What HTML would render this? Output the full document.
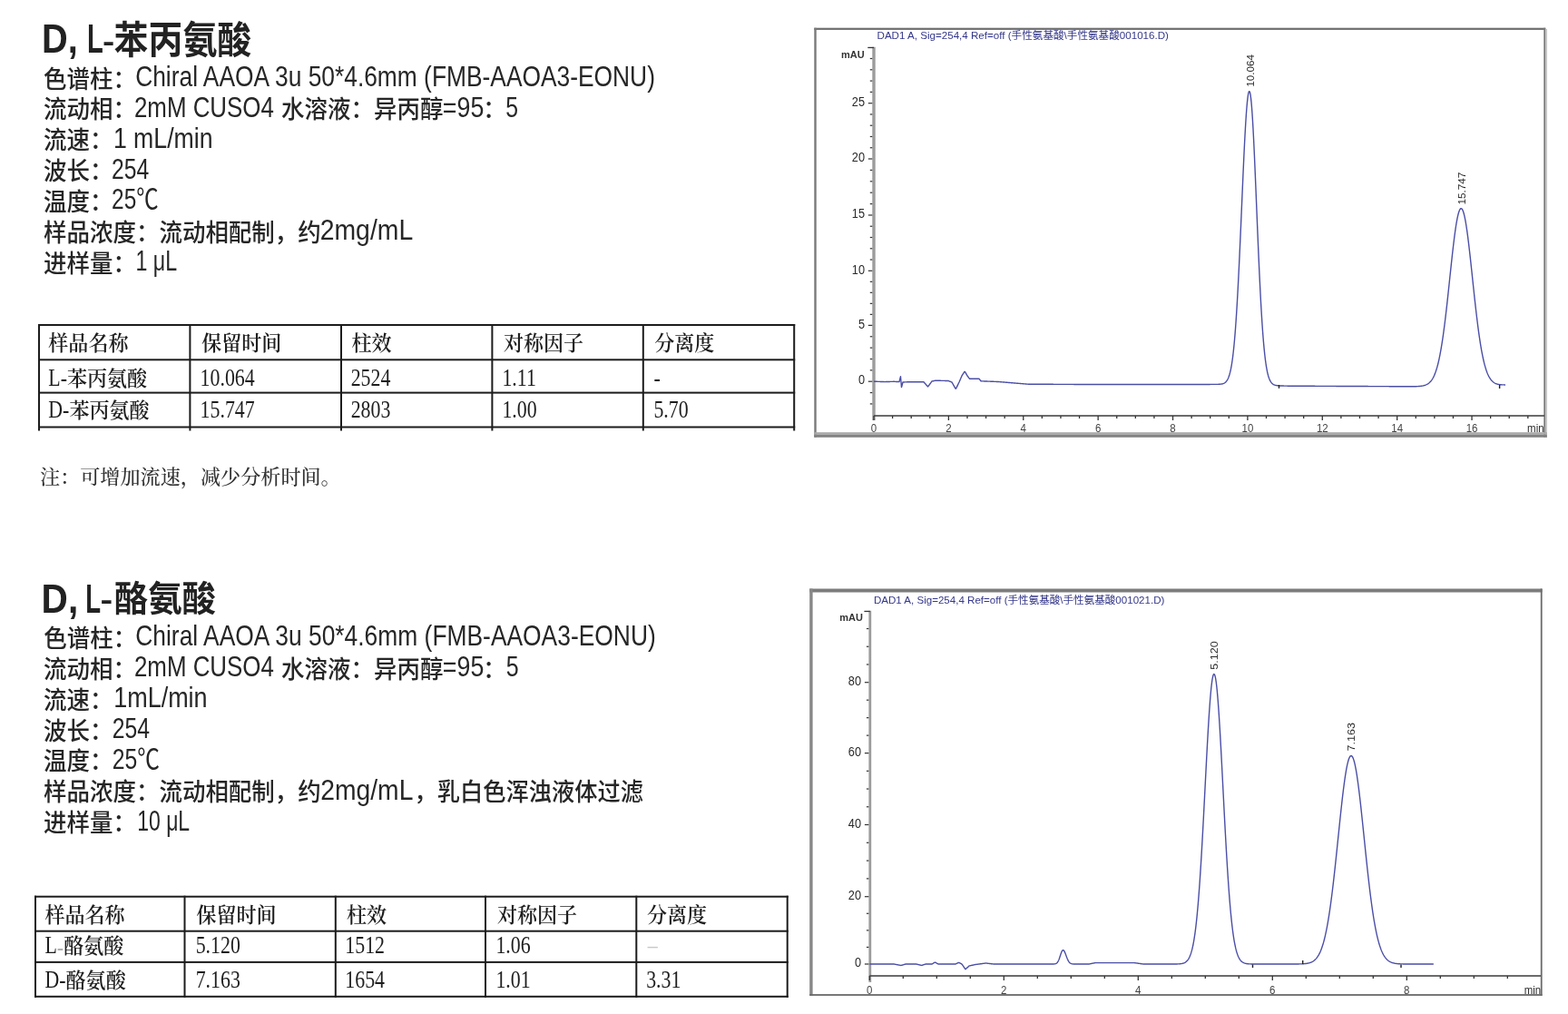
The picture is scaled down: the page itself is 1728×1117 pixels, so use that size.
<!DOCTYPE html>
<html lang="zh"><head><meta charset="utf-8"><title>D,L-苯丙氨酸 / D,L-酪氨酸 手性分离</title>
<style>
*{margin:0;padding:0}
html,body{width:1728px;height:1117px;background:#fff;overflow:hidden}
svg{position:absolute;left:0;top:0;display:block}
text{white-space:pre}
</style></head><body>
<svg width="1728" height="1117" viewBox="0 0 1728 1117">
<rect x="42.00" y="357.00" width="2.00" height="117.50" fill="#1c1c1c"/>
<rect x="208.40" y="357.00" width="2.00" height="117.50" fill="#1c1c1c"/>
<rect x="375.00" y="357.00" width="2.00" height="117.50" fill="#1c1c1c"/>
<rect x="541.40" y="357.00" width="2.00" height="117.50" fill="#1c1c1c"/>
<rect x="707.80" y="357.00" width="2.00" height="117.50" fill="#1c1c1c"/>
<rect x="874.20" y="357.00" width="2.00" height="117.50" fill="#1c1c1c"/>
<rect x="42.00" y="357.00" width="834.20" height="2.00" fill="#1c1c1c"/>
<rect x="42.00" y="395.30" width="834.20" height="2.00" fill="#1c1c1c"/>
<rect x="42.00" y="431.60" width="834.20" height="2.00" fill="#1c1c1c"/>
<rect x="42.00" y="469.50" width="834.20" height="2.00" fill="#1c1c1c"/>
<rect x="38.00" y="986.70" width="2.00" height="112.10" fill="#1c1c1c"/>
<rect x="202.50" y="986.70" width="2.00" height="112.10" fill="#1c1c1c"/>
<rect x="368.80" y="986.70" width="2.00" height="112.10" fill="#1c1c1c"/>
<rect x="534.00" y="986.70" width="2.00" height="112.10" fill="#1c1c1c"/>
<rect x="700.30" y="986.70" width="2.00" height="112.10" fill="#1c1c1c"/>
<rect x="866.70" y="986.70" width="2.00" height="112.10" fill="#1c1c1c"/>
<rect x="38.00" y="986.70" width="830.70" height="2.00" fill="#1c1c1c"/>
<rect x="38.00" y="1024.70" width="830.70" height="2.00" fill="#1c1c1c"/>
<rect x="38.00" y="1058.90" width="830.70" height="2.00" fill="#1c1c1c"/>
<rect x="38.00" y="1096.80" width="830.70" height="2.00" fill="#1c1c1c"/>
<text transform="translate(46.05 57.90) scale(0.8836 1.0000)" style="font:bold 45px 'Liberation Sans', 'Noto Sans CJK SC', sans-serif" fill="#222222">D,</text>
<text transform="translate(95.96 57.90) scale(0.6458 1.0000)" style="font:bold 45px 'Liberation Sans', 'Noto Sans CJK SC', sans-serif" fill="#222222">L</text>
<text transform="translate(113.02 55.85) scale(0.8846 0.7167)" style="font:bold 45px 'Liberation Sans', 'Noto Sans CJK SC', sans-serif" fill="#222222">-</text>
<text transform="translate(125.60 58.92) scale(0.9030 0.9952)" style="font:700 42px 'Noto Sans CJK SC', sans-serif" fill="#222222">苯丙氨酸</text>
<text transform="translate(48.00 96.50) scale(0.9440 1.0000)" style="font:500 27px 'Noto Sans CJK SC', sans-serif" fill="#262626">色谱柱：</text>
<text transform="translate(149.15 95.00) scale(0.8508 1.0000)" style="font:normal 31px 'Liberation Sans', 'Noto Sans CJK SC', sans-serif" fill="#262626">Chiral AAOA 3u 50*4.6mm (FMB-AAOA3-EONU)</text>
<text transform="translate(48.00 130.35) scale(0.9440 1.0000)" style="font:500 27px 'Noto Sans CJK SC', sans-serif" fill="#262626">流动相：</text>
<text transform="translate(147.96 128.85) scale(0.8352 1.0000)" style="font:normal 31px 'Liberation Sans', 'Noto Sans CJK SC', sans-serif" fill="#262626">2mM CUSO4</text>
<text transform="translate(310.00 130.35) scale(0.9440 1.0000)" style="font:500 27px 'Noto Sans CJK SC', sans-serif" fill="#262626">水溶液：异丙醇</text>
<text transform="translate(487.84 128.85) scale(0.8641 1.0000)" style="font:normal 31px 'Liberation Sans', 'Noto Sans CJK SC', sans-serif" fill="#262626">=95</text>
<text transform="translate(532.22 130.35) scale(0.9440 1.0000)" style="font:500 27px 'Noto Sans CJK SC', sans-serif" fill="#262626">：</text>
<text transform="translate(557.20 128.85) scale(0.8000 1.0000)" style="font:normal 31px 'Liberation Sans', 'Noto Sans CJK SC', sans-serif" fill="#262626">5</text>
<text transform="translate(48.00 164.20) scale(0.9440 1.0000)" style="font:500 27px 'Noto Sans CJK SC', sans-serif" fill="#262626">流速：</text>
<text transform="translate(124.88 162.70) scale(0.8604 1.0000)" style="font:normal 31px 'Liberation Sans', 'Noto Sans CJK SC', sans-serif" fill="#262626">1 mL/min</text>
<text transform="translate(48.00 198.05) scale(0.9440 1.0000)" style="font:500 27px 'Noto Sans CJK SC', sans-serif" fill="#262626">波长：</text>
<text transform="translate(123.10 196.55) scale(0.7983 1.0000)" style="font:normal 31px 'Liberation Sans', 'Noto Sans CJK SC', sans-serif" fill="#262626">254</text>
<text transform="translate(48.00 231.90) scale(0.9440 1.0000)" style="font:500 27px 'Noto Sans CJK SC', sans-serif" fill="#262626">温度：</text>
<text transform="translate(123.11 230.40) scale(0.7892 1.0000)" style="font:normal 31px 'Liberation Sans', 'Noto Sans CJK SC', sans-serif" fill="#262626">25℃</text>
<text transform="translate(48.00 265.75) scale(0.9440 1.0000)" style="font:500 27px 'Noto Sans CJK SC', sans-serif" fill="#262626">样品浓度：流动相配制，约</text>
<text transform="translate(352.68 264.25) scale(0.9157 1.0000)" style="font:normal 31px 'Liberation Sans', 'Noto Sans CJK SC', sans-serif" fill="#262626">2mg/mL</text>
<text transform="translate(48.00 299.60) scale(0.9440 1.0000)" style="font:500 27px 'Noto Sans CJK SC', sans-serif" fill="#262626">进样量：</text>
<text transform="translate(149.50 298.10) scale(0.7494 1.0000)" style="font:normal 31px 'Liberation Sans', 'Noto Sans CJK SC', sans-serif" fill="#262626">1 μL</text>
<text transform="translate(45.60 674.60) scale(0.9013 1.0000)" style="font:bold 45px 'Liberation Sans', 'Noto Sans CJK SC', sans-serif" fill="#222222">D,</text>
<text transform="translate(94.16 674.60) scale(0.6125 1.0000)" style="font:bold 45px 'Liberation Sans', 'Noto Sans CJK SC', sans-serif" fill="#222222">L</text>
<text transform="translate(110.58 671.25) scale(0.9154 0.7167)" style="font:bold 45px 'Liberation Sans', 'Noto Sans CJK SC', sans-serif" fill="#222222">-</text>
<text transform="translate(125.71 673.08) scale(0.8912 0.9238)" style="font:700 42px 'Noto Sans CJK SC', sans-serif" fill="#222222">酪氨酸</text>
<text transform="translate(48.30 712.60) scale(0.9440 1.0000)" style="font:500 27px 'Noto Sans CJK SC', sans-serif" fill="#262626">色谱柱：</text>
<text transform="translate(149.25 711.10) scale(0.8518 1.0000)" style="font:normal 31px 'Liberation Sans', 'Noto Sans CJK SC', sans-serif" fill="#262626">Chiral AAOA 3u 50*4.6mm (FMB-AAOA3-EONU)</text>
<text transform="translate(48.00 746.57) scale(0.9440 1.0000)" style="font:500 27px 'Noto Sans CJK SC', sans-serif" fill="#262626">流动相：</text>
<text transform="translate(147.96 745.07) scale(0.8352 1.0000)" style="font:normal 31px 'Liberation Sans', 'Noto Sans CJK SC', sans-serif" fill="#262626">2mM CUSO4</text>
<text transform="translate(310.00 746.57) scale(0.9440 1.0000)" style="font:500 27px 'Noto Sans CJK SC', sans-serif" fill="#262626">水溶液：异丙醇</text>
<text transform="translate(487.84 745.07) scale(0.8641 1.0000)" style="font:normal 31px 'Liberation Sans', 'Noto Sans CJK SC', sans-serif" fill="#262626">=95</text>
<text transform="translate(532.22 746.57) scale(0.9440 1.0000)" style="font:500 27px 'Noto Sans CJK SC', sans-serif" fill="#262626">：</text>
<text transform="translate(557.69 745.07) scale(0.8067 1.0000)" style="font:normal 31px 'Liberation Sans', 'Noto Sans CJK SC', sans-serif" fill="#262626">5</text>
<text transform="translate(48.00 780.54) scale(0.9440 1.0000)" style="font:500 27px 'Noto Sans CJK SC', sans-serif" fill="#262626">流速：</text>
<text transform="translate(125.16 779.04) scale(0.8709 1.0000)" style="font:normal 31px 'Liberation Sans', 'Noto Sans CJK SC', sans-serif" fill="#262626">1mL/min</text>
<text transform="translate(48.00 814.51) scale(0.9440 1.0000)" style="font:500 27px 'Noto Sans CJK SC', sans-serif" fill="#262626">波长：</text>
<text transform="translate(123.70 813.01) scale(0.7983 1.0000)" style="font:normal 31px 'Liberation Sans', 'Noto Sans CJK SC', sans-serif" fill="#262626">254</text>
<text transform="translate(48.00 848.48) scale(0.9440 1.0000)" style="font:500 27px 'Noto Sans CJK SC', sans-serif" fill="#262626">温度：</text>
<text transform="translate(123.70 846.98) scale(0.7987 1.0000)" style="font:normal 31px 'Liberation Sans', 'Noto Sans CJK SC', sans-serif" fill="#262626">25℃</text>
<text transform="translate(48.00 882.45) scale(0.9440 1.0000)" style="font:500 27px 'Noto Sans CJK SC', sans-serif" fill="#262626">样品浓度：流动相配制，约</text>
<text transform="translate(353.29 880.95) scale(0.9120 1.0000)" style="font:normal 31px 'Liberation Sans', 'Noto Sans CJK SC', sans-serif" fill="#262626">2mg/mL</text>
<text transform="translate(456.60 882.45) scale(0.9348 1.0000)" style="font:500 27px 'Noto Sans CJK SC', sans-serif" fill="#262626">，乳白色浑浊液体过滤</text>
<text transform="translate(48.00 916.42) scale(0.9440 1.0000)" style="font:500 27px 'Noto Sans CJK SC', sans-serif" fill="#262626">进样量：</text>
<text transform="translate(151.22 914.92) scale(0.7412 1.0000)" style="font:normal 31px 'Liberation Sans', 'Noto Sans CJK SC', sans-serif" fill="#262626">10 μL</text>
<text transform="translate(53.30 386.00) scale(0.9800 1.0000)" style="font:600 22.5px 'Noto Serif CJK SC', serif" fill="#1e1e1e">样品名称</text>
<text transform="translate(222.20 386.00) scale(0.9800 1.0000)" style="font:600 22.5px 'Noto Serif CJK SC', serif" fill="#1e1e1e">保留时间</text>
<text transform="translate(387.50 386.00) scale(0.9800 1.0000)" style="font:600 22.5px 'Noto Serif CJK SC', serif" fill="#1e1e1e">柱效</text>
<text transform="translate(555.00 386.00) scale(0.9800 1.0000)" style="font:600 22.5px 'Noto Serif CJK SC', serif" fill="#1e1e1e">对称因子</text>
<text transform="translate(721.20 386.00) scale(0.9800 1.0000)" style="font:600 22.5px 'Noto Serif CJK SC', serif" fill="#1e1e1e">分离度</text>
<text transform="translate(53.30 424.60) scale(0.8100 1.0000)" style="font:normal 27px 'Liberation Serif', 'Noto Serif CJK SC', serif" fill="#1e1e1e">L-</text>
<text transform="translate(73.94 424.60) scale(0.9800 1.0000)" style="font:600 22.5px 'Noto Serif CJK SC', serif" fill="#1e1e1e">苯丙氨酸</text>
<text transform="translate(220.58 424.60) scale(0.8100 1.0000)" style="font:normal 27px 'Liberation Serif', 'Noto Serif CJK SC', serif" fill="#1e1e1e">10.064</text>
<text transform="translate(386.69 424.60) scale(0.8100 1.0000)" style="font:normal 27px 'Liberation Serif', 'Noto Serif CJK SC', serif" fill="#1e1e1e">2524</text>
<text transform="translate(553.38 424.60) scale(0.8100 1.0000)" style="font:normal 27px 'Liberation Serif', 'Noto Serif CJK SC', serif" fill="#1e1e1e">1.11</text>
<text transform="translate(720.39 424.60) scale(0.8100 1.0000)" style="font:normal 27px 'Liberation Serif', 'Noto Serif CJK SC', serif" fill="#1e1e1e">-</text>
<text transform="translate(53.30 460.40) scale(0.8100 1.0000)" style="font:normal 27px 'Liberation Serif', 'Noto Serif CJK SC', serif" fill="#1e1e1e">D-</text>
<text transform="translate(76.38 460.40) scale(0.9800 1.0000)" style="font:600 22.5px 'Noto Serif CJK SC', serif" fill="#1e1e1e">苯丙氨酸</text>
<text transform="translate(220.58 460.40) scale(0.8100 1.0000)" style="font:normal 27px 'Liberation Serif', 'Noto Serif CJK SC', serif" fill="#1e1e1e">15.747</text>
<text transform="translate(386.69 460.40) scale(0.8100 1.0000)" style="font:normal 27px 'Liberation Serif', 'Noto Serif CJK SC', serif" fill="#1e1e1e">2803</text>
<text transform="translate(553.38 460.40) scale(0.8100 1.0000)" style="font:normal 27px 'Liberation Serif', 'Noto Serif CJK SC', serif" fill="#1e1e1e">1.00</text>
<text transform="translate(720.39 460.40) scale(0.8100 1.0000)" style="font:normal 27px 'Liberation Serif', 'Noto Serif CJK SC', serif" fill="#1e1e1e">5.70</text>
<text transform="translate(49.50 1015.50) scale(0.9800 1.0000)" style="font:600 22.5px 'Noto Serif CJK SC', serif" fill="#1e1e1e">样品名称</text>
<text transform="translate(216.50 1015.50) scale(0.9800 1.0000)" style="font:600 22.5px 'Noto Serif CJK SC', serif" fill="#1e1e1e">保留时间</text>
<text transform="translate(381.90 1015.50) scale(0.9800 1.0000)" style="font:600 22.5px 'Noto Serif CJK SC', serif" fill="#1e1e1e">柱效</text>
<text transform="translate(548.00 1015.50) scale(0.9800 1.0000)" style="font:600 22.5px 'Noto Serif CJK SC', serif" fill="#1e1e1e">对称因子</text>
<text transform="translate(713.00 1015.50) scale(0.9800 1.0000)" style="font:600 22.5px 'Noto Serif CJK SC', serif" fill="#1e1e1e">分离度</text>
<text transform="translate(49.50 1049.80) scale(0.8100 1.0000)" style="font:normal 27px 'Liberation Serif', 'Noto Serif CJK SC', serif" fill="#1e1e1e">L</text>
<text transform="translate(62.86 1052.30) scale(0.8100 1.0000)" style="font:normal 27px 'Liberation Serif', 'Noto Serif CJK SC', serif" fill="#b0b0b0">-</text>
<text transform="translate(70.14 1049.80) scale(0.9800 1.0000)" style="font:600 22.5px 'Noto Serif CJK SC', serif" fill="#1e1e1e">酪氨酸</text>
<text transform="translate(215.69 1049.80) scale(0.8100 1.0000)" style="font:normal 27px 'Liberation Serif', 'Noto Serif CJK SC', serif" fill="#1e1e1e">5.120</text>
<text transform="translate(380.28 1049.80) scale(0.8100 1.0000)" style="font:normal 27px 'Liberation Serif', 'Noto Serif CJK SC', serif" fill="#1e1e1e">1512</text>
<text transform="translate(546.38 1049.80) scale(0.8100 1.0000)" style="font:normal 27px 'Liberation Serif', 'Noto Serif CJK SC', serif" fill="#1e1e1e">1.06</text>
<text transform="translate(713.81 1049.80) scale(0.8100 1.0000)" style="font:normal 27px 'Liberation Serif', 'Noto Serif CJK SC', serif" fill="#c8c8c8">–</text>
<text transform="translate(49.50 1088.30) scale(0.8100 1.0000)" style="font:normal 27px 'Liberation Serif', 'Noto Serif CJK SC', serif" fill="#1e1e1e">D-</text>
<text transform="translate(72.58 1088.30) scale(0.9800 1.0000)" style="font:600 22.5px 'Noto Serif CJK SC', serif" fill="#1e1e1e">酪氨酸</text>
<text transform="translate(215.69 1088.30) scale(0.8100 1.0000)" style="font:normal 27px 'Liberation Serif', 'Noto Serif CJK SC', serif" fill="#1e1e1e">7.163</text>
<text transform="translate(380.28 1088.30) scale(0.8100 1.0000)" style="font:normal 27px 'Liberation Serif', 'Noto Serif CJK SC', serif" fill="#1e1e1e">1654</text>
<text transform="translate(546.38 1088.30) scale(0.8100 1.0000)" style="font:normal 27px 'Liberation Serif', 'Noto Serif CJK SC', serif" fill="#1e1e1e">1.01</text>
<text transform="translate(712.19 1088.30) scale(0.8100 1.0000)" style="font:normal 27px 'Liberation Serif', 'Noto Serif CJK SC', serif" fill="#1e1e1e">3.31</text>
<text transform="translate(44.00 532.50) scale(1.0063 1.0000)" style="font:500 22px 'Noto Serif CJK SC', serif" fill="#333333">注：可增加流速，减少分析时间。</text>
</svg>
<svg width="1728" height="1117" viewBox="0 0 1728 1117" style="position:absolute;left:0;top:0">
<rect x="897.3" y="30.7" width="806.0" height="2.2" fill="#6e6e6e"/>
<rect x="897.3" y="30.7" width="2.4" height="451.0" fill="#7a7a7a"/>
<rect x="1701.3" y="30.7" width="1.9" height="451.0" fill="#7a7a7a"/>
<rect x="1703.2" y="32.0" width="1.8" height="450.0" fill="#c4c4c4"/>
<rect x="897.3" y="476.2" width="807.5" height="2.6" fill="#a8a8a8"/>
<rect x="897.3" y="478.8" width="807.5" height="3.0" fill="#828282"/>
<text x="966.5" y="42.8" font-family="Liberation Sans, Noto Sans CJK SC, sans-serif" font-weight="normal" font-size="11.5" fill="#34378a" textLength="321.5" lengthAdjust="spacingAndGlyphs">DAD1 A, Sig=254,4 Ref=off (手性氨基酸\手性氨基酸001016.D)</text>
<rect x="961.3" y="51.8" width="3.4" height="411.2" fill="#9c9c9c"/>
<rect x="956.3" y="51.8" width="6.7" height="1.3" fill="#333"/>
<rect x="958.8" y="444.32" width="2.5" height="1.2" fill="#333"/>
<rect x="958.8" y="431.96" width="2.5" height="1.2" fill="#333"/>
<rect x="956.8" y="419.60" width="4.5" height="1.2" fill="#333"/>
<text x="0.0" y="423.50" font-family="Liberation Sans, sans-serif" font-weight="normal" font-size="14.5" fill="#2a2a2a" text-anchor="end" transform="translate(953.0,0) scale(0.880,1)">0</text>
<rect x="958.8" y="407.24" width="2.5" height="1.2" fill="#333"/>
<rect x="958.8" y="394.88" width="2.5" height="1.2" fill="#333"/>
<rect x="958.8" y="382.52" width="2.5" height="1.2" fill="#333"/>
<rect x="958.8" y="370.16" width="2.5" height="1.2" fill="#333"/>
<rect x="956.8" y="357.80" width="4.5" height="1.2" fill="#333"/>
<text x="0.0" y="361.70" font-family="Liberation Sans, sans-serif" font-weight="normal" font-size="14.5" fill="#2a2a2a" text-anchor="end" transform="translate(953.0,0) scale(0.880,1)">5</text>
<rect x="958.8" y="345.78" width="2.5" height="1.2" fill="#333"/>
<rect x="958.8" y="333.76" width="2.5" height="1.2" fill="#333"/>
<rect x="958.8" y="321.74" width="2.5" height="1.2" fill="#333"/>
<rect x="958.8" y="309.72" width="2.5" height="1.2" fill="#333"/>
<rect x="956.8" y="297.70" width="4.5" height="1.2" fill="#333"/>
<text x="0.0" y="301.60" font-family="Liberation Sans, sans-serif" font-weight="normal" font-size="14.5" fill="#2a2a2a" text-anchor="end" transform="translate(953.0,0) scale(0.880,1)">10</text>
<rect x="958.8" y="285.44" width="2.5" height="1.2" fill="#333"/>
<rect x="958.8" y="273.18" width="2.5" height="1.2" fill="#333"/>
<rect x="958.8" y="260.92" width="2.5" height="1.2" fill="#333"/>
<rect x="958.8" y="248.66" width="2.5" height="1.2" fill="#333"/>
<rect x="956.8" y="236.40" width="4.5" height="1.2" fill="#333"/>
<text x="0.0" y="240.30" font-family="Liberation Sans, sans-serif" font-weight="normal" font-size="14.5" fill="#2a2a2a" text-anchor="end" transform="translate(953.0,0) scale(0.880,1)">15</text>
<rect x="958.8" y="224.00" width="2.5" height="1.2" fill="#333"/>
<rect x="958.8" y="211.60" width="2.5" height="1.2" fill="#333"/>
<rect x="958.8" y="199.20" width="2.5" height="1.2" fill="#333"/>
<rect x="958.8" y="186.80" width="2.5" height="1.2" fill="#333"/>
<rect x="956.8" y="174.40" width="4.5" height="1.2" fill="#333"/>
<text x="0.0" y="178.30" font-family="Liberation Sans, sans-serif" font-weight="normal" font-size="14.5" fill="#2a2a2a" text-anchor="end" transform="translate(953.0,0) scale(0.880,1)">20</text>
<rect x="958.8" y="162.14" width="2.5" height="1.2" fill="#333"/>
<rect x="958.8" y="149.88" width="2.5" height="1.2" fill="#333"/>
<rect x="958.8" y="137.62" width="2.5" height="1.2" fill="#333"/>
<rect x="958.8" y="125.36" width="2.5" height="1.2" fill="#333"/>
<rect x="956.8" y="113.10" width="4.5" height="1.2" fill="#333"/>
<text x="0.0" y="117.00" font-family="Liberation Sans, sans-serif" font-weight="normal" font-size="14.5" fill="#2a2a2a" text-anchor="end" transform="translate(953.0,0) scale(0.880,1)">25</text>
<rect x="958.8" y="100.80" width="2.5" height="1.2" fill="#333"/>
<rect x="958.8" y="88.50" width="2.5" height="1.2" fill="#333"/>
<rect x="958.8" y="76.20" width="2.5" height="1.2" fill="#333"/>
<rect x="958.8" y="63.90" width="2.5" height="1.2" fill="#333"/>
<text x="0" y="64.3" font-family="Liberation Sans, sans-serif" font-weight="bold" font-size="10.0" fill="#333" text-anchor="end" transform="translate(952.7,0) scale(1.100,1)">mAU</text>
<rect x="963.0" y="457.20" width="739.0" height="1.60" fill="#484848"/>
<rect x="962.35" y="458.0" width="1.3" height="5.0" fill="#333"/>
<text x="0" y="475.8" font-family="Liberation Sans, sans-serif" font-weight="normal" font-size="13.5" fill="#444" text-anchor="middle" transform="translate(963.00,0) scale(0.850,1)">0</text>
<rect x="982.95" y="458.0" width="1.3" height="3.0" fill="#333"/>
<rect x="1003.54" y="458.0" width="1.3" height="3.0" fill="#333"/>
<rect x="1024.13" y="458.0" width="1.3" height="3.0" fill="#333"/>
<rect x="1044.73" y="458.0" width="1.3" height="5.0" fill="#333"/>
<text x="0" y="475.8" font-family="Liberation Sans, sans-serif" font-weight="normal" font-size="13.5" fill="#444" text-anchor="middle" transform="translate(1045.38,0) scale(0.850,1)">2</text>
<rect x="1065.32" y="458.0" width="1.3" height="3.0" fill="#333"/>
<rect x="1085.92" y="458.0" width="1.3" height="3.0" fill="#333"/>
<rect x="1106.51" y="458.0" width="1.3" height="3.0" fill="#333"/>
<rect x="1127.11" y="458.0" width="1.3" height="5.0" fill="#333"/>
<text x="0" y="475.8" font-family="Liberation Sans, sans-serif" font-weight="normal" font-size="13.5" fill="#444" text-anchor="middle" transform="translate(1127.76,0) scale(0.850,1)">4</text>
<rect x="1147.70" y="458.0" width="1.3" height="3.0" fill="#333"/>
<rect x="1168.30" y="458.0" width="1.3" height="3.0" fill="#333"/>
<rect x="1188.89" y="458.0" width="1.3" height="3.0" fill="#333"/>
<rect x="1209.49" y="458.0" width="1.3" height="5.0" fill="#333"/>
<text x="0" y="475.8" font-family="Liberation Sans, sans-serif" font-weight="normal" font-size="13.5" fill="#444" text-anchor="middle" transform="translate(1210.14,0) scale(0.850,1)">6</text>
<rect x="1230.09" y="458.0" width="1.3" height="3.0" fill="#333"/>
<rect x="1250.68" y="458.0" width="1.3" height="3.0" fill="#333"/>
<rect x="1271.27" y="458.0" width="1.3" height="3.0" fill="#333"/>
<rect x="1291.87" y="458.0" width="1.3" height="5.0" fill="#333"/>
<text x="0" y="475.8" font-family="Liberation Sans, sans-serif" font-weight="normal" font-size="13.5" fill="#444" text-anchor="middle" transform="translate(1292.52,0) scale(0.850,1)">8</text>
<rect x="1312.46" y="458.0" width="1.3" height="3.0" fill="#333"/>
<rect x="1333.06" y="458.0" width="1.3" height="3.0" fill="#333"/>
<rect x="1353.65" y="458.0" width="1.3" height="3.0" fill="#333"/>
<rect x="1374.25" y="458.0" width="1.3" height="5.0" fill="#333"/>
<text x="0" y="475.8" font-family="Liberation Sans, sans-serif" font-weight="normal" font-size="13.5" fill="#444" text-anchor="middle" transform="translate(1374.90,0) scale(0.850,1)">10</text>
<rect x="1394.84" y="458.0" width="1.3" height="3.0" fill="#333"/>
<rect x="1415.44" y="458.0" width="1.3" height="3.0" fill="#333"/>
<rect x="1436.03" y="458.0" width="1.3" height="3.0" fill="#333"/>
<rect x="1456.63" y="458.0" width="1.3" height="5.0" fill="#333"/>
<text x="0" y="475.8" font-family="Liberation Sans, sans-serif" font-weight="normal" font-size="13.5" fill="#444" text-anchor="middle" transform="translate(1457.28,0) scale(0.850,1)">12</text>
<rect x="1477.22" y="458.0" width="1.3" height="3.0" fill="#333"/>
<rect x="1497.82" y="458.0" width="1.3" height="3.0" fill="#333"/>
<rect x="1518.41" y="458.0" width="1.3" height="3.0" fill="#333"/>
<rect x="1539.01" y="458.0" width="1.3" height="5.0" fill="#333"/>
<text x="0" y="475.8" font-family="Liberation Sans, sans-serif" font-weight="normal" font-size="13.5" fill="#444" text-anchor="middle" transform="translate(1539.66,0) scale(0.850,1)">14</text>
<rect x="1559.61" y="458.0" width="1.3" height="3.0" fill="#333"/>
<rect x="1580.20" y="458.0" width="1.3" height="3.0" fill="#333"/>
<rect x="1600.79" y="458.0" width="1.3" height="3.0" fill="#333"/>
<rect x="1621.39" y="458.0" width="1.3" height="5.0" fill="#333"/>
<text x="0" y="475.8" font-family="Liberation Sans, sans-serif" font-weight="normal" font-size="13.5" fill="#444" text-anchor="middle" transform="translate(1622.04,0) scale(0.850,1)">16</text>
<rect x="1641.98" y="458.0" width="1.3" height="3.0" fill="#333"/>
<rect x="1662.58" y="458.0" width="1.3" height="3.0" fill="#333"/>
<rect x="1683.17" y="458.0" width="1.3" height="3.0" fill="#333"/>
<text x="0" y="475.8" font-family="Liberation Sans, sans-serif" font-size="13.5" fill="#2a2a2a" text-anchor="end" transform="translate(1701.6,0) scale(0.850,1)">min</text>
<path d="M963.0,420.20 L963.5,420.22 L964.0,420.23 L964.5,420.25 L965.0,420.27 L965.5,420.28 L966.0,420.30 L966.5,420.32 L967.0,420.33 L967.5,420.35 L968.0,420.37 L968.5,420.38 L969.0,420.40 L969.5,420.42 L970.0,420.43 L970.5,420.45 L971.0,420.47 L971.5,420.48 L972.0,420.50 L972.5,420.52 L973.0,420.53 L973.5,420.55 L974.0,420.57 L974.5,420.58 L975.0,420.60 L975.5,420.59 L976.0,420.57 L976.5,420.56 L977.0,420.54 L977.5,420.53 L978.0,420.51 L978.5,420.50 L979.0,420.48 L979.5,420.47 L980.0,420.45 L980.5,420.44 L981.0,420.42 L981.5,420.41 L982.0,420.39 L982.5,420.38 L983.0,420.36 L983.5,420.35 L984.0,420.33 L984.5,420.31 L985.0,420.30 L985.5,420.32 L986.0,420.35 L986.5,420.38 L987.0,420.40 L987.5,420.43 L988.0,420.45 L988.5,420.48 L989.0,420.50 L989.5,420.53 L990.0,420.55 L990.5,420.58 L991.0,420.60 L991.5,418.67 L992.0,416.73 L992.5,414.80 L993.0,420.70 L993.5,426.60 L994.0,424.73 L994.5,422.87 L995.0,421.00 L995.5,420.98 L996.0,420.96 L996.5,420.94 L997.0,420.92 L997.5,420.90 L998.0,420.88 L998.5,420.86 L999.0,420.84 L999.5,420.82 L1000.0,420.80 L1000.5,420.80 L1001.0,420.80 L1001.5,420.80 L1002.0,420.80 L1002.5,420.80 L1003.0,420.80 L1003.5,420.80 L1004.0,420.80 L1004.5,420.80 L1005.0,420.80 L1005.5,420.80 L1006.0,420.80 L1006.5,420.80 L1007.0,420.80 L1007.5,420.80 L1008.0,420.80 L1008.5,420.80 L1009.0,420.80 L1009.5,420.80 L1010.0,420.80 L1010.5,420.80 L1011.0,420.80 L1011.5,420.80 L1012.0,420.80 L1012.5,420.80 L1013.0,420.80 L1013.5,420.80 L1014.0,420.80 L1014.5,420.80 L1015.0,420.80 L1015.5,420.80 L1016.0,420.80 L1016.5,420.80 L1017.0,420.80 L1017.5,420.80 L1018.0,420.80 L1018.5,421.37 L1019.0,421.93 L1019.5,422.50 L1020.0,423.06 L1020.5,423.63 L1021.0,424.19 L1021.5,424.76 L1022.0,425.32 L1022.5,425.89 L1023.0,425.45 L1023.5,424.77 L1024.0,424.09 L1024.5,423.41 L1025.0,422.73 L1025.5,422.05 L1026.0,421.36 L1026.5,420.68 L1027.0,420.00 L1027.5,419.90 L1028.0,419.80 L1028.5,419.70 L1029.0,419.60 L1029.5,419.50 L1030.0,419.40 L1030.5,419.30 L1031.0,419.20 L1031.5,419.21 L1032.0,419.22 L1032.5,419.23 L1033.0,419.24 L1033.5,419.25 L1034.0,419.26 L1034.5,419.27 L1035.0,419.29 L1035.5,419.30 L1036.0,419.31 L1036.5,419.32 L1037.0,419.33 L1037.5,419.34 L1038.0,419.35 L1038.5,419.36 L1039.0,419.37 L1039.5,419.38 L1040.0,419.39 L1040.5,419.40 L1041.0,419.41 L1041.5,419.43 L1042.0,419.44 L1042.5,419.45 L1043.0,419.46 L1043.5,419.47 L1044.0,419.48 L1044.5,419.49 L1045.0,419.50 L1045.5,419.69 L1046.0,419.88 L1046.5,420.06 L1047.0,420.25 L1047.5,420.44 L1048.0,420.62 L1048.5,420.81 L1049.0,421.00 L1049.5,421.88 L1050.0,422.77 L1050.5,423.65 L1051.0,424.53 L1051.5,425.42 L1052.0,426.30 L1052.5,427.19 L1053.0,428.07 L1053.5,428.19 L1054.0,427.16 L1054.5,426.14 L1055.0,425.11 L1055.5,424.08 L1056.0,423.05 L1056.5,422.03 L1057.0,421.00 L1057.5,419.83 L1058.0,418.67 L1058.5,417.50 L1059.0,416.33 L1059.5,415.17 L1060.0,414.00 L1060.5,413.22 L1061.0,412.44 L1061.5,411.66 L1062.0,410.88 L1062.5,410.09 L1063.0,409.31 L1063.5,409.54 L1064.0,410.43 L1064.5,411.32 L1065.0,412.21 L1065.5,413.11 L1066.0,414.00 L1066.5,414.64 L1067.0,415.28 L1067.5,415.92 L1068.0,416.56 L1068.5,417.20 L1069.0,417.20 L1069.5,417.20 L1070.0,417.20 L1070.5,417.20 L1071.0,417.20 L1071.5,417.20 L1072.0,417.20 L1072.5,417.20 L1073.0,417.20 L1073.5,417.20 L1074.0,417.20 L1074.5,417.20 L1075.0,417.20 L1075.5,417.20 L1076.0,417.20 L1076.5,417.20 L1077.0,417.20 L1077.5,417.20 L1078.0,417.20 L1078.5,417.20 L1079.0,417.20 L1079.5,417.85 L1080.0,418.50 L1080.5,419.15 L1081.0,419.80 L1081.5,419.82 L1082.0,419.84 L1082.5,419.86 L1083.0,419.87 L1083.5,419.89 L1084.0,419.91 L1084.5,419.93 L1085.0,419.95 L1085.5,419.97 L1086.0,419.98 L1086.5,420.00 L1087.0,420.02 L1087.5,420.04 L1088.0,420.06 L1088.5,420.08 L1089.0,420.09 L1089.5,420.11 L1090.0,420.13 L1090.5,420.15 L1091.0,420.17 L1091.5,420.19 L1092.0,420.21 L1092.5,420.22 L1093.0,420.24 L1093.5,420.26 L1094.0,420.28 L1094.5,420.30 L1095.0,420.32 L1095.5,420.33 L1096.0,420.35 L1096.5,420.37 L1097.0,420.39 L1097.5,420.41 L1098.0,420.43 L1098.5,420.44 L1099.0,420.46 L1099.5,420.48 L1100.0,420.50 L1100.5,420.54 L1101.0,420.58 L1101.5,420.62 L1102.0,420.66 L1102.5,420.70 L1103.0,420.75 L1103.5,420.79 L1104.0,420.83 L1104.5,420.87 L1105.0,420.91 L1105.5,420.95 L1106.0,420.99 L1106.5,421.03 L1107.0,421.07 L1107.5,421.11 L1108.0,421.15 L1108.5,421.20 L1109.0,421.24 L1109.5,421.28 L1110.0,421.32 L1110.5,421.36 L1111.0,421.40 L1111.5,421.44 L1112.0,421.48 L1112.5,421.52 L1113.0,421.56 L1113.5,421.60 L1114.0,421.65 L1114.5,421.69 L1115.0,421.73 L1115.5,421.77 L1116.0,421.81 L1116.5,421.85 L1117.0,421.89 L1117.5,421.93 L1118.0,421.97 L1118.5,422.01 L1119.0,422.05 L1119.5,422.10 L1120.0,422.14 L1120.5,422.18 L1121.0,422.22 L1121.5,422.26 L1122.0,422.30 L1122.5,422.34 L1123.0,422.38 L1123.5,422.42 L1124.0,422.46 L1124.5,422.50 L1125.0,422.55 L1125.5,422.59 L1126.0,422.63 L1126.5,422.67 L1127.0,422.71 L1127.5,422.75 L1128.0,422.79 L1128.5,422.83 L1129.0,422.87 L1129.5,422.91 L1130.0,422.95 L1130.5,423.00 L1131.0,423.04 L1131.5,423.08 L1132.0,423.12 L1132.5,423.16 L1133.0,423.20 L1133.5,423.20 L1134.0,423.20 L1134.5,423.21 L1135.0,423.21 L1135.5,423.21 L1136.0,423.21 L1136.5,423.22 L1137.0,423.22 L1137.5,423.22 L1138.0,423.22 L1138.5,423.22 L1139.0,423.23 L1139.5,423.23 L1140.0,423.23 L1140.5,423.23 L1141.0,423.24 L1141.5,423.24 L1142.0,423.24 L1142.5,423.24 L1143.0,423.24 L1143.5,423.25 L1144.0,423.25 L1144.5,423.25 L1145.0,423.25 L1145.5,423.26 L1146.0,423.26 L1146.5,423.26 L1147.0,423.26 L1147.5,423.26 L1148.0,423.27 L1148.5,423.27 L1149.0,423.27 L1149.5,423.27 L1150.0,423.28 L1150.5,423.28 L1151.0,423.28 L1151.5,423.28 L1152.0,423.29 L1152.5,423.29 L1153.0,423.29 L1153.5,423.29 L1154.0,423.29 L1154.5,423.30 L1155.0,423.30 L1155.5,423.30 L1156.0,423.30 L1156.5,423.31 L1157.0,423.31 L1157.5,423.31 L1158.0,423.31 L1158.5,423.31 L1159.0,423.32 L1159.5,423.32 L1160.0,423.32 L1160.5,423.32 L1161.0,423.33 L1161.5,423.33 L1162.0,423.33 L1162.5,423.33 L1163.0,423.33 L1163.5,423.34 L1164.0,423.34 L1164.5,423.34 L1165.0,423.34 L1165.5,423.35 L1166.0,423.35 L1166.5,423.35 L1167.0,423.35 L1167.5,423.35 L1168.0,423.36 L1168.5,423.36 L1169.0,423.36 L1169.5,423.36 L1170.0,423.37 L1170.5,423.37 L1171.0,423.37 L1171.5,423.37 L1172.0,423.37 L1172.5,423.38 L1173.0,423.38 L1173.5,423.38 L1174.0,423.38 L1174.5,423.39 L1175.0,423.39 L1175.5,423.39 L1176.0,423.39 L1176.5,423.39 L1177.0,423.40 L1177.5,423.40 L1178.0,423.40 L1178.5,423.40 L1179.0,423.41 L1179.5,423.41 L1180.0,423.41 L1180.5,423.41 L1181.0,423.41 L1181.5,423.42 L1182.0,423.42 L1182.5,423.42 L1183.0,423.42 L1183.5,423.43 L1184.0,423.43 L1184.5,423.43 L1185.0,423.43 L1185.5,423.44 L1186.0,423.44 L1186.5,423.44 L1187.0,423.44 L1187.5,423.44 L1188.0,423.45 L1188.5,423.45 L1189.0,423.45 L1189.5,423.45 L1190.0,423.46 L1190.5,423.46 L1191.0,423.46 L1191.5,423.46 L1192.0,423.46 L1192.5,423.47 L1193.0,423.47 L1193.5,423.47 L1194.0,423.47 L1194.5,423.48 L1195.0,423.48 L1195.5,423.48 L1196.0,423.48 L1196.5,423.48 L1197.0,423.49 L1197.5,423.49 L1198.0,423.49 L1198.5,423.49 L1199.0,423.50 L1199.5,423.50 L1200.0,423.50 L1200.5,423.50 L1201.0,423.50 L1201.5,423.50 L1202.0,423.50 L1202.5,423.50 L1203.0,423.50 L1203.5,423.50 L1204.0,423.50 L1204.5,423.50 L1205.0,423.50 L1205.5,423.50 L1206.0,423.50 L1206.5,423.50 L1207.0,423.50 L1207.5,423.50 L1208.0,423.50 L1208.5,423.50 L1209.0,423.50 L1209.5,423.50 L1210.0,423.50 L1210.5,423.50 L1211.0,423.50 L1211.5,423.50 L1212.0,423.50 L1212.5,423.50 L1213.0,423.50 L1213.5,423.50 L1214.0,423.50 L1214.5,423.50 L1215.0,423.50 L1215.5,423.50 L1216.0,423.50 L1216.5,423.50 L1217.0,423.50 L1217.5,423.50 L1218.0,423.50 L1218.5,423.50 L1219.0,423.50 L1219.5,423.50 L1220.0,423.50 L1220.5,423.50 L1221.0,423.50 L1221.5,423.50 L1222.0,423.50 L1222.5,423.50 L1223.0,423.50 L1223.5,423.50 L1224.0,423.50 L1224.5,423.50 L1225.0,423.50 L1225.5,423.50 L1226.0,423.50 L1226.5,423.50 L1227.0,423.50 L1227.5,423.50 L1228.0,423.50 L1228.5,423.50 L1229.0,423.50 L1229.5,423.50 L1230.0,423.50 L1230.5,423.50 L1231.0,423.50 L1231.5,423.50 L1232.0,423.50 L1232.5,423.50 L1233.0,423.50 L1233.5,423.50 L1234.0,423.50 L1234.5,423.50 L1235.0,423.50 L1235.5,423.50 L1236.0,423.50 L1236.5,423.50 L1237.0,423.50 L1237.5,423.50 L1238.0,423.50 L1238.5,423.50 L1239.0,423.50 L1239.5,423.50 L1240.0,423.50 L1240.5,423.50 L1241.0,423.50 L1241.5,423.50 L1242.0,423.50 L1242.5,423.50 L1243.0,423.50 L1243.5,423.50 L1244.0,423.50 L1244.5,423.50 L1245.0,423.50 L1245.5,423.50 L1246.0,423.50 L1246.5,423.50 L1247.0,423.50 L1247.5,423.50 L1248.0,423.50 L1248.5,423.50 L1249.0,423.50 L1249.5,423.50 L1250.0,423.50 L1250.5,423.50 L1251.0,423.50 L1251.5,423.50 L1252.0,423.50 L1252.5,423.50 L1253.0,423.50 L1253.5,423.50 L1254.0,423.50 L1254.5,423.50 L1255.0,423.50 L1255.5,423.50 L1256.0,423.50 L1256.5,423.50 L1257.0,423.50 L1257.5,423.50 L1258.0,423.50 L1258.5,423.50 L1259.0,423.50 L1259.5,423.50 L1260.0,423.50 L1260.5,423.50 L1261.0,423.50 L1261.5,423.50 L1262.0,423.50 L1262.5,423.50 L1263.0,423.50 L1263.5,423.50 L1264.0,423.50 L1264.5,423.50 L1265.0,423.50 L1265.5,423.50 L1266.0,423.50 L1266.5,423.50 L1267.0,423.50 L1267.5,423.50 L1268.0,423.50 L1268.5,423.50 L1269.0,423.50 L1269.5,423.50 L1270.0,423.50 L1270.5,423.50 L1271.0,423.50 L1271.5,423.50 L1272.0,423.50 L1272.5,423.50 L1273.0,423.50 L1273.5,423.50 L1274.0,423.50 L1274.5,423.50 L1275.0,423.50 L1275.5,423.50 L1276.0,423.50 L1276.5,423.50 L1277.0,423.50 L1277.5,423.50 L1278.0,423.50 L1278.5,423.50 L1279.0,423.50 L1279.5,423.50 L1280.0,423.50 L1280.5,423.50 L1281.0,423.50 L1281.5,423.50 L1282.0,423.50 L1282.5,423.50 L1283.0,423.50 L1283.5,423.50 L1284.0,423.50 L1284.5,423.50 L1285.0,423.50 L1285.5,423.50 L1286.0,423.50 L1286.5,423.50 L1287.0,423.50 L1287.5,423.50 L1288.0,423.50 L1288.5,423.50 L1289.0,423.50 L1289.5,423.50 L1290.0,423.50 L1290.5,423.50 L1291.0,423.50 L1291.5,423.50 L1292.0,423.50 L1292.5,423.50 L1293.0,423.50 L1293.5,423.50 L1294.0,423.50 L1294.5,423.50 L1295.0,423.50 L1295.5,423.50 L1296.0,423.50 L1296.5,423.50 L1297.0,423.50 L1297.5,423.50 L1298.0,423.50 L1298.5,423.50 L1299.0,423.50 L1299.5,423.50 L1300.0,423.50 L1300.5,423.50 L1301.0,423.50 L1301.5,423.50 L1302.0,423.50 L1302.5,423.49 L1303.0,423.49 L1303.5,423.49 L1304.0,423.49 L1304.5,423.49 L1305.0,423.49 L1305.5,423.49 L1306.0,423.49 L1306.5,423.49 L1307.0,423.48 L1307.5,423.48 L1308.0,423.48 L1308.5,423.48 L1309.0,423.48 L1309.5,423.48 L1310.0,423.48 L1310.5,423.48 L1311.0,423.48 L1311.5,423.47 L1312.0,423.47 L1312.5,423.47 L1313.0,423.47 L1313.5,423.47 L1314.0,423.47 L1314.5,423.47 L1315.0,423.47 L1315.5,423.47 L1316.0,423.46 L1316.5,423.46 L1317.0,423.46 L1317.5,423.46 L1318.0,423.46 L1318.5,423.46 L1319.0,423.46 L1319.5,423.46 L1320.0,423.46 L1320.5,423.45 L1321.0,423.45 L1321.5,423.45 L1322.0,423.45 L1322.5,423.45 L1323.0,423.45 L1323.5,423.45 L1324.0,423.45 L1324.5,423.45 L1325.0,423.44 L1325.5,423.44 L1326.0,423.44 L1326.5,423.44 L1327.0,423.44 L1327.5,423.44 L1328.0,423.44 L1328.5,423.44 L1329.0,423.44 L1329.5,423.43 L1330.0,423.43 L1330.5,423.43 L1331.0,423.43 L1331.5,423.43 L1332.0,423.43 L1332.5,423.43 L1333.0,423.43 L1333.5,423.43 L1334.0,423.42 L1334.5,423.42 L1335.0,423.42 L1335.5,423.42 L1336.0,423.42 L1336.5,423.42 L1337.0,423.41 L1337.5,423.41 L1338.0,423.41 L1338.5,423.40 L1339.0,423.40 L1339.5,423.40 L1340.0,423.39 L1340.5,423.38 L1341.0,423.37 L1341.5,423.36 L1342.0,423.35 L1342.5,423.33 L1343.0,423.31 L1343.5,423.28 L1344.0,423.24 L1344.5,423.20 L1345.0,423.15 L1345.5,423.10 L1346.0,423.03 L1346.5,422.95 L1347.0,422.85 L1347.5,422.72 L1348.0,422.57 L1348.5,422.37 L1349.0,422.14 L1349.5,421.86 L1350.0,421.53 L1350.5,421.13 L1351.0,420.65 L1351.5,420.09 L1352.0,419.43 L1352.5,418.65 L1353.0,417.75 L1353.5,416.70 L1354.0,415.48 L1354.5,414.09 L1355.0,412.49 L1355.5,410.66 L1356.0,408.58 L1356.5,406.23 L1357.0,403.57 L1357.5,400.60 L1358.0,397.27 L1358.5,393.57 L1359.0,389.46 L1359.5,384.94 L1360.0,379.97 L1360.5,374.53 L1361.0,368.61 L1361.5,362.19 L1362.0,355.27 L1362.5,347.84 L1363.0,339.90 L1363.5,331.45 L1364.0,322.51 L1364.5,313.10 L1365.0,303.24 L1365.5,292.96 L1366.0,282.31 L1366.5,271.33 L1367.0,260.08 L1367.5,248.62 L1368.0,237.02 L1368.5,225.35 L1369.0,213.71 L1369.5,202.16 L1370.0,190.81 L1370.5,179.75 L1371.0,169.06 L1371.5,158.84 L1372.0,149.19 L1372.5,140.20 L1373.0,131.95 L1373.5,124.52 L1374.0,117.98 L1374.5,112.41 L1375.0,107.86 L1375.5,104.38 L1376.0,102.01 L1376.5,100.76 L1377.0,100.67 L1377.5,101.82 L1378.0,104.21 L1378.5,107.83 L1379.0,112.62 L1379.5,118.54 L1380.0,125.52 L1380.5,133.48 L1381.0,142.32 L1381.5,151.97 L1382.0,162.31 L1382.5,173.24 L1383.0,184.66 L1383.5,196.45 L1384.0,208.50 L1384.5,220.72 L1385.0,232.99 L1385.5,245.23 L1386.0,257.34 L1386.5,269.24 L1387.0,280.86 L1387.5,292.12 L1388.0,302.98 L1388.5,313.39 L1389.0,323.30 L1389.5,332.68 L1390.0,341.53 L1390.5,349.81 L1391.0,357.54 L1391.5,364.70 L1392.0,371.30 L1392.5,377.37 L1393.0,382.91 L1393.5,387.94 L1394.0,392.50 L1394.5,396.60 L1395.0,400.27 L1395.5,403.55 L1396.0,406.46 L1396.5,409.03 L1397.0,411.30 L1397.5,413.28 L1398.0,415.01 L1398.5,416.51 L1399.0,417.81 L1399.5,418.93 L1400.0,419.89 L1400.5,420.71 L1401.0,421.41 L1401.5,422.00 L1402.0,422.50 L1402.5,422.92 L1403.0,423.28 L1403.5,423.57 L1404.0,423.82 L1404.5,424.02 L1405.0,424.19 L1405.5,424.33 L1406.0,424.45 L1406.5,424.55 L1407.0,424.63 L1407.5,424.69 L1408.0,424.75 L1408.5,424.80 L1409.0,424.84 L1409.5,424.87 L1410.0,424.90 L1410.5,424.93 L1411.0,424.95 L1411.5,424.97 L1412.0,424.99 L1412.5,425.00 L1413.0,425.02 L1413.5,425.04 L1414.0,425.05 L1414.5,425.06 L1415.0,425.08 L1415.5,425.09 L1416.0,425.10 L1416.5,425.11 L1417.0,425.13 L1417.5,425.14 L1418.0,425.15 L1418.5,425.16 L1419.0,425.18 L1419.5,425.19 L1420.0,425.20 L1420.5,425.20 L1421.0,425.20 L1421.5,425.21 L1422.0,425.21 L1422.5,425.21 L1423.0,425.21 L1423.5,425.21 L1424.0,425.22 L1424.5,425.22 L1425.0,425.22 L1425.5,425.22 L1426.0,425.23 L1426.5,425.23 L1427.0,425.23 L1427.5,425.23 L1428.0,425.23 L1428.5,425.24 L1429.0,425.24 L1429.5,425.24 L1430.0,425.24 L1430.5,425.24 L1431.0,425.25 L1431.5,425.25 L1432.0,425.25 L1432.5,425.25 L1433.0,425.26 L1433.5,425.26 L1434.0,425.26 L1434.5,425.26 L1435.0,425.26 L1435.5,425.27 L1436.0,425.27 L1436.5,425.27 L1437.0,425.27 L1437.5,425.27 L1438.0,425.28 L1438.5,425.28 L1439.0,425.28 L1439.5,425.28 L1440.0,425.29 L1440.5,425.29 L1441.0,425.29 L1441.5,425.29 L1442.0,425.29 L1442.5,425.30 L1443.0,425.30 L1443.5,425.30 L1444.0,425.30 L1444.5,425.30 L1445.0,425.31 L1445.5,425.31 L1446.0,425.31 L1446.5,425.31 L1447.0,425.32 L1447.5,425.32 L1448.0,425.32 L1448.5,425.32 L1449.0,425.32 L1449.5,425.33 L1450.0,425.33 L1450.5,425.33 L1451.0,425.33 L1451.5,425.33 L1452.0,425.34 L1452.5,425.34 L1453.0,425.34 L1453.5,425.34 L1454.0,425.35 L1454.5,425.35 L1455.0,425.35 L1455.5,425.35 L1456.0,425.35 L1456.5,425.36 L1457.0,425.36 L1457.5,425.36 L1458.0,425.36 L1458.5,425.37 L1459.0,425.37 L1459.5,425.37 L1460.0,425.37 L1460.5,425.37 L1461.0,425.38 L1461.5,425.38 L1462.0,425.38 L1462.5,425.38 L1463.0,425.38 L1463.5,425.39 L1464.0,425.39 L1464.5,425.39 L1465.0,425.39 L1465.5,425.39 L1466.0,425.40 L1466.5,425.40 L1467.0,425.40 L1467.5,425.40 L1468.0,425.41 L1468.5,425.41 L1469.0,425.41 L1469.5,425.41 L1470.0,425.41 L1470.5,425.42 L1471.0,425.42 L1471.5,425.42 L1472.0,425.42 L1472.5,425.43 L1473.0,425.43 L1473.5,425.43 L1474.0,425.43 L1474.5,425.43 L1475.0,425.44 L1475.5,425.44 L1476.0,425.44 L1476.5,425.44 L1477.0,425.44 L1477.5,425.45 L1478.0,425.45 L1478.5,425.45 L1479.0,425.45 L1479.5,425.45 L1480.0,425.46 L1480.5,425.46 L1481.0,425.46 L1481.5,425.46 L1482.0,425.47 L1482.5,425.47 L1483.0,425.47 L1483.5,425.47 L1484.0,425.47 L1484.5,425.48 L1485.0,425.48 L1485.5,425.48 L1486.0,425.48 L1486.5,425.49 L1487.0,425.49 L1487.5,425.49 L1488.0,425.49 L1488.5,425.49 L1489.0,425.50 L1489.5,425.50 L1490.0,425.50 L1490.5,425.50 L1491.0,425.50 L1491.5,425.51 L1492.0,425.51 L1492.5,425.51 L1493.0,425.51 L1493.5,425.51 L1494.0,425.52 L1494.5,425.52 L1495.0,425.52 L1495.5,425.52 L1496.0,425.53 L1496.5,425.53 L1497.0,425.53 L1497.5,425.53 L1498.0,425.53 L1498.5,425.54 L1499.0,425.54 L1499.5,425.54 L1500.0,425.54 L1500.5,425.55 L1501.0,425.55 L1501.5,425.55 L1502.0,425.55 L1502.5,425.55 L1503.0,425.56 L1503.5,425.56 L1504.0,425.56 L1504.5,425.56 L1505.0,425.56 L1505.5,425.57 L1506.0,425.57 L1506.5,425.57 L1507.0,425.57 L1507.5,425.57 L1508.0,425.58 L1508.5,425.58 L1509.0,425.58 L1509.5,425.58 L1510.0,425.59 L1510.5,425.59 L1511.0,425.59 L1511.5,425.59 L1512.0,425.59 L1512.5,425.60 L1513.0,425.60 L1513.5,425.60 L1514.0,425.60 L1514.5,425.60 L1515.0,425.61 L1515.5,425.61 L1516.0,425.61 L1516.5,425.61 L1517.0,425.62 L1517.5,425.62 L1518.0,425.62 L1518.5,425.62 L1519.0,425.62 L1519.5,425.63 L1520.0,425.63 L1520.5,425.63 L1521.0,425.63 L1521.5,425.63 L1522.0,425.64 L1522.5,425.64 L1523.0,425.64 L1523.5,425.64 L1524.0,425.65 L1524.5,425.65 L1525.0,425.65 L1525.5,425.65 L1526.0,425.65 L1526.5,425.66 L1527.0,425.66 L1527.5,425.66 L1528.0,425.66 L1528.5,425.66 L1529.0,425.67 L1529.5,425.67 L1530.0,425.67 L1530.5,425.67 L1531.0,425.68 L1531.5,425.68 L1532.0,425.68 L1532.5,425.68 L1533.0,425.68 L1533.5,425.69 L1534.0,425.69 L1534.5,425.69 L1535.0,425.69 L1535.5,425.69 L1536.0,425.70 L1536.5,425.70 L1537.0,425.70 L1537.5,425.70 L1538.0,425.71 L1538.5,425.71 L1539.0,425.71 L1539.5,425.71 L1540.0,425.71 L1540.5,425.72 L1541.0,425.72 L1541.5,425.72 L1542.0,425.72 L1542.5,425.72 L1543.0,425.73 L1543.5,425.73 L1544.0,425.73 L1544.5,425.73 L1545.0,425.74 L1545.5,425.74 L1546.0,425.74 L1546.5,425.74 L1547.0,425.74 L1547.5,425.75 L1548.0,425.75 L1548.5,425.75 L1549.0,425.75 L1549.5,425.75 L1550.0,425.76 L1550.5,425.76 L1551.0,425.76 L1551.5,425.76 L1552.0,425.76 L1552.5,425.76 L1553.0,425.76 L1553.5,425.77 L1554.0,425.77 L1554.5,425.77 L1555.0,425.77 L1555.5,425.77 L1556.0,425.77 L1556.5,425.77 L1557.0,425.76 L1557.5,425.76 L1558.0,425.76 L1558.5,425.76 L1559.0,425.75 L1559.5,425.75 L1560.0,425.74 L1560.5,425.72 L1561.0,425.70 L1561.5,425.67 L1562.0,425.64 L1562.5,425.62 L1563.0,425.58 L1563.5,425.55 L1564.0,425.51 L1564.5,425.47 L1565.0,425.42 L1565.5,425.36 L1566.0,425.30 L1566.5,425.24 L1567.0,425.16 L1567.5,425.08 L1568.0,424.99 L1568.5,424.88 L1569.0,424.77 L1569.5,424.64 L1570.0,424.49 L1570.5,424.33 L1571.0,424.15 L1571.5,423.95 L1572.0,423.73 L1572.5,423.48 L1573.0,423.21 L1573.5,422.91 L1574.0,422.57 L1574.5,422.20 L1575.0,421.80 L1575.5,421.35 L1576.0,420.86 L1576.5,420.32 L1577.0,419.72 L1577.5,419.08 L1578.0,418.37 L1578.5,417.60 L1579.0,416.76 L1579.5,415.85 L1580.0,414.86 L1580.5,413.79 L1581.0,412.63 L1581.5,411.38 L1582.0,410.04 L1582.5,408.60 L1583.0,407.05 L1583.5,405.39 L1584.0,403.62 L1584.5,401.73 L1585.0,399.72 L1585.5,397.58 L1586.0,395.32 L1586.5,392.92 L1587.0,390.39 L1587.5,387.72 L1588.0,384.92 L1588.5,381.97 L1589.0,378.89 L1589.5,375.67 L1590.0,372.31 L1590.5,368.81 L1591.0,365.18 L1591.5,361.42 L1592.0,357.53 L1592.5,353.52 L1593.0,349.40 L1593.5,345.17 L1594.0,340.83 L1594.5,336.41 L1595.0,331.90 L1595.5,327.33 L1596.0,322.69 L1596.5,318.01 L1597.0,313.29 L1597.5,308.55 L1598.0,303.80 L1598.5,299.07 L1599.0,294.36 L1599.5,289.69 L1600.0,285.08 L1600.5,280.54 L1601.0,276.10 L1601.5,271.77 L1602.0,267.56 L1602.5,263.50 L1603.0,259.60 L1603.5,255.87 L1604.0,252.34 L1604.5,249.01 L1605.0,245.91 L1605.5,243.04 L1606.0,240.43 L1606.5,238.08 L1607.0,235.99 L1607.5,234.20 L1608.0,232.69 L1608.5,231.48 L1609.0,230.57 L1609.5,229.97 L1610.0,229.68 L1610.5,229.71 L1611.0,230.05 L1611.5,230.69 L1612.0,231.65 L1612.5,232.90 L1613.0,234.45 L1613.5,236.30 L1614.0,238.42 L1614.5,240.81 L1615.0,243.46 L1615.5,246.36 L1616.0,249.50 L1616.5,252.85 L1617.0,256.41 L1617.5,260.16 L1618.0,264.08 L1618.5,268.16 L1619.0,272.38 L1619.5,276.72 L1620.0,281.17 L1620.5,285.70 L1621.0,290.31 L1621.5,294.97 L1622.0,299.67 L1622.5,304.40 L1623.0,309.12 L1623.5,313.84 L1624.0,318.54 L1624.5,323.20 L1625.0,327.81 L1625.5,332.35 L1626.0,336.83 L1626.5,341.21 L1627.0,345.51 L1627.5,349.70 L1628.0,353.79 L1628.5,357.76 L1629.0,361.60 L1629.5,365.32 L1630.0,368.91 L1630.5,372.36 L1631.0,375.68 L1631.5,378.85 L1632.0,381.89 L1632.5,384.79 L1633.0,387.55 L1633.5,390.18 L1634.0,392.66 L1634.5,395.02 L1635.0,397.24 L1635.5,399.33 L1636.0,401.30 L1636.5,403.15 L1637.0,404.88 L1637.5,406.50 L1638.0,408.01 L1638.5,409.41 L1639.0,410.72 L1639.5,411.93 L1640.0,413.06 L1640.5,414.09 L1641.0,415.05 L1641.5,415.93 L1642.0,416.74 L1642.5,417.48 L1643.0,418.16 L1643.5,418.78 L1644.0,419.34 L1644.5,419.85 L1645.0,420.32 L1645.5,420.74 L1646.0,421.13 L1646.5,421.47 L1647.0,421.78 L1647.5,422.06 L1648.0,422.31 L1648.5,422.54 L1649.0,422.74 L1649.5,422.91 L1650.0,423.07 L1650.5,423.21 L1651.0,423.32 L1651.5,423.42 L1652.0,423.51 L1652.5,423.59 L1653.0,423.65 L1653.5,423.71 L1654.0,423.76 L1654.5,423.80 L1655.0,423.83 L1655.5,423.86 L1656.0,423.88 L1656.5,423.90 L1657.0,423.91 L1657.5,423.92 L1658.0,423.93 L1658.5,423.93 L1659.0,423.93" fill="none" stroke="#4a4ea6" stroke-width="1.40" stroke-linejoin="round"/>
<rect x="1408.8" y="424.0" width="1.4" height="3.8" fill="#222"/>
<rect x="1651.9" y="424.0" width="1.4" height="4.0" fill="#222"/>
<text x="0" y="0" font-family="Liberation Sans, sans-serif" font-size="11.0" fill="#2a2a2a" transform="translate(1381.9,95.8) rotate(-90)" textLength="35.7" lengthAdjust="spacingAndGlyphs">10.064</text>
<text x="0" y="0" font-family="Liberation Sans, sans-serif" font-size="11.0" fill="#2a2a2a" transform="translate(1614.8,225.5) rotate(-90)" textLength="35.7" lengthAdjust="spacingAndGlyphs">15.747</text>
<rect x="892.2" y="648.5" width="807.3" height="4.0" fill="#7c7c7c"/>
<rect x="892.2" y="648.5" width="3.4" height="448.3" fill="#888888"/>
<rect x="1697.8" y="648.5" width="1.8" height="448.3" fill="#6a6a6a"/>
<rect x="892.2" y="1095.1" width="807.3" height="1.8" fill="#6a6a6a"/>
<text x="962.9" y="665.0" font-family="Liberation Sans, Noto Sans CJK SC, sans-serif" font-weight="normal" font-size="11.5" fill="#34378a" textLength="320.5" lengthAdjust="spacingAndGlyphs">DAD1 A, Sig=254,4 Ref=off (手性氨基酸\手性氨基酸001021.D)</text>
<rect x="957.4" y="672.8" width="2.8" height="409.2" fill="#9c9c9c"/>
<rect x="952.4" y="672.8" width="6.4" height="1.3" fill="#333"/>
<rect x="952.9" y="1061.40" width="4.5" height="1.2" fill="#333"/>
<text x="0.0" y="1065.30" font-family="Liberation Sans, sans-serif" font-weight="normal" font-size="14.5" fill="#2a2a2a" text-anchor="end" transform="translate(949.0,0) scale(0.880,1)">0</text>
<rect x="954.9" y="1042.83" width="2.5" height="1.2" fill="#333"/>
<rect x="954.9" y="1024.25" width="2.5" height="1.2" fill="#333"/>
<rect x="954.9" y="1005.68" width="2.5" height="1.2" fill="#333"/>
<rect x="952.9" y="987.10" width="4.5" height="1.2" fill="#333"/>
<text x="0.0" y="991.00" font-family="Liberation Sans, sans-serif" font-weight="normal" font-size="14.5" fill="#2a2a2a" text-anchor="end" transform="translate(949.0,0) scale(0.880,1)">20</text>
<rect x="954.9" y="967.30" width="2.5" height="1.2" fill="#333"/>
<rect x="954.9" y="947.50" width="2.5" height="1.2" fill="#333"/>
<rect x="954.9" y="927.70" width="2.5" height="1.2" fill="#333"/>
<rect x="952.9" y="907.90" width="4.5" height="1.2" fill="#333"/>
<text x="0.0" y="911.80" font-family="Liberation Sans, sans-serif" font-weight="normal" font-size="14.5" fill="#2a2a2a" text-anchor="end" transform="translate(949.0,0) scale(0.880,1)">40</text>
<rect x="954.9" y="888.17" width="2.5" height="1.2" fill="#333"/>
<rect x="954.9" y="868.45" width="2.5" height="1.2" fill="#333"/>
<rect x="954.9" y="848.73" width="2.5" height="1.2" fill="#333"/>
<rect x="952.9" y="829.00" width="4.5" height="1.2" fill="#333"/>
<text x="0.0" y="832.90" font-family="Liberation Sans, sans-serif" font-weight="normal" font-size="14.5" fill="#2a2a2a" text-anchor="end" transform="translate(949.0,0) scale(0.880,1)">60</text>
<rect x="954.9" y="809.52" width="2.5" height="1.2" fill="#333"/>
<rect x="954.9" y="790.05" width="2.5" height="1.2" fill="#333"/>
<rect x="954.9" y="770.58" width="2.5" height="1.2" fill="#333"/>
<rect x="952.9" y="751.10" width="4.5" height="1.2" fill="#333"/>
<text x="0.0" y="755.00" font-family="Liberation Sans, sans-serif" font-weight="normal" font-size="14.5" fill="#2a2a2a" text-anchor="end" transform="translate(949.0,0) scale(0.880,1)">80</text>
<rect x="954.9" y="731.38" width="2.5" height="1.2" fill="#333"/>
<rect x="954.9" y="711.65" width="2.5" height="1.2" fill="#333"/>
<rect x="954.9" y="691.92" width="2.5" height="1.2" fill="#333"/>
<text x="0" y="684.3" font-family="Liberation Sans, sans-serif" font-weight="bold" font-size="10.0" fill="#333" text-anchor="end" transform="translate(951.0,0) scale(1.100,1)">mAU</text>
<rect x="958.3" y="1074.20" width="739.7" height="1.60" fill="#484848"/>
<rect x="957.65" y="1075.0" width="1.3" height="5.0" fill="#333"/>
<text x="0" y="1094.7" font-family="Liberation Sans, sans-serif" font-weight="normal" font-size="13.5" fill="#444" text-anchor="middle" transform="translate(958.30,0) scale(0.850,1)">0</text>
<rect x="994.65" y="1075.0" width="1.3" height="3.0" fill="#333"/>
<rect x="1031.65" y="1075.0" width="1.3" height="3.0" fill="#333"/>
<rect x="1068.65" y="1075.0" width="1.3" height="3.0" fill="#333"/>
<rect x="1105.65" y="1075.0" width="1.3" height="5.0" fill="#333"/>
<text x="0" y="1094.7" font-family="Liberation Sans, sans-serif" font-weight="normal" font-size="13.5" fill="#444" text-anchor="middle" transform="translate(1106.30,0) scale(0.850,1)">2</text>
<rect x="1142.65" y="1075.0" width="1.3" height="3.0" fill="#333"/>
<rect x="1179.65" y="1075.0" width="1.3" height="3.0" fill="#333"/>
<rect x="1216.65" y="1075.0" width="1.3" height="3.0" fill="#333"/>
<rect x="1253.65" y="1075.0" width="1.3" height="5.0" fill="#333"/>
<text x="0" y="1094.7" font-family="Liberation Sans, sans-serif" font-weight="normal" font-size="13.5" fill="#444" text-anchor="middle" transform="translate(1254.30,0) scale(0.850,1)">4</text>
<rect x="1290.65" y="1075.0" width="1.3" height="3.0" fill="#333"/>
<rect x="1327.65" y="1075.0" width="1.3" height="3.0" fill="#333"/>
<rect x="1364.65" y="1075.0" width="1.3" height="3.0" fill="#333"/>
<rect x="1401.65" y="1075.0" width="1.3" height="5.0" fill="#333"/>
<text x="0" y="1094.7" font-family="Liberation Sans, sans-serif" font-weight="normal" font-size="13.5" fill="#444" text-anchor="middle" transform="translate(1402.30,0) scale(0.850,1)">6</text>
<rect x="1438.65" y="1075.0" width="1.3" height="3.0" fill="#333"/>
<rect x="1475.65" y="1075.0" width="1.3" height="3.0" fill="#333"/>
<rect x="1512.65" y="1075.0" width="1.3" height="3.0" fill="#333"/>
<rect x="1549.65" y="1075.0" width="1.3" height="5.0" fill="#333"/>
<text x="0" y="1094.7" font-family="Liberation Sans, sans-serif" font-weight="normal" font-size="13.5" fill="#444" text-anchor="middle" transform="translate(1550.30,0) scale(0.850,1)">8</text>
<rect x="1586.65" y="1075.0" width="1.3" height="3.0" fill="#333"/>
<rect x="1623.65" y="1075.0" width="1.3" height="3.0" fill="#333"/>
<rect x="1660.65" y="1075.0" width="1.3" height="3.0" fill="#333"/>
<text x="0" y="1094.7" font-family="Liberation Sans, sans-serif" font-size="13.5" fill="#2a2a2a" text-anchor="end" transform="translate(1698.2,0) scale(0.850,1)">min</text>
<path d="M958.3,1062.00 L958.8,1062.00 L959.3,1062.00 L959.8,1062.00 L960.3,1062.00 L960.8,1062.00 L961.3,1062.00 L961.8,1062.00 L962.3,1062.00 L962.8,1062.00 L963.3,1062.00 L963.8,1062.00 L964.3,1062.00 L964.8,1062.00 L965.3,1062.00 L965.8,1062.00 L966.3,1062.00 L966.8,1062.00 L967.3,1062.00 L967.8,1062.00 L968.3,1062.00 L968.8,1062.00 L969.3,1062.00 L969.8,1062.00 L970.3,1062.00 L970.8,1062.00 L971.3,1062.00 L971.8,1062.00 L972.3,1062.00 L972.8,1062.00 L973.3,1062.00 L973.8,1062.00 L974.3,1062.00 L974.8,1062.00 L975.3,1062.00 L975.8,1062.00 L976.3,1062.00 L976.8,1062.00 L977.3,1062.00 L977.8,1062.00 L978.3,1062.00 L978.8,1062.00 L979.3,1062.00 L979.8,1062.00 L980.3,1062.00 L980.8,1062.00 L981.3,1062.00 L981.8,1062.00 L982.3,1062.00 L982.8,1062.00 L983.3,1062.00 L983.8,1062.00 L984.3,1062.00 L984.8,1062.00 L985.3,1062.06 L985.8,1062.15 L986.3,1062.24 L986.8,1062.34 L987.3,1062.43 L987.8,1062.53 L988.3,1062.62 L988.8,1062.71 L989.3,1062.81 L989.8,1062.90 L990.3,1062.99 L990.8,1063.09 L991.3,1063.18 L991.8,1063.28 L992.3,1063.37 L992.8,1063.46 L993.3,1063.41 L993.8,1063.26 L994.3,1063.11 L994.8,1062.96 L995.3,1062.81 L995.8,1062.66 L996.3,1062.51 L996.8,1062.36 L997.3,1062.21 L997.8,1062.06 L998.3,1062.00 L998.8,1062.00 L999.3,1062.00 L999.8,1062.00 L1000.3,1062.00 L1000.8,1062.00 L1001.3,1062.00 L1001.8,1062.00 L1002.3,1062.00 L1002.8,1062.00 L1003.3,1062.00 L1003.8,1062.00 L1004.3,1062.00 L1004.8,1062.00 L1005.3,1062.00 L1005.8,1062.00 L1006.3,1062.00 L1006.8,1062.00 L1007.3,1062.00 L1007.8,1062.00 L1008.3,1062.00 L1008.8,1062.00 L1009.3,1062.00 L1009.8,1062.00 L1010.3,1062.08 L1010.8,1062.21 L1011.3,1062.35 L1011.8,1062.48 L1012.3,1062.62 L1012.8,1062.75 L1013.3,1062.88 L1013.8,1063.02 L1014.3,1063.15 L1014.8,1063.29 L1015.3,1063.42 L1015.8,1063.43 L1016.3,1063.26 L1016.8,1063.09 L1017.3,1062.92 L1017.8,1062.75 L1018.3,1062.58 L1018.8,1062.41 L1019.3,1062.24 L1019.8,1062.07 L1020.3,1062.00 L1020.8,1062.00 L1021.3,1062.00 L1021.8,1062.00 L1022.3,1062.00 L1022.8,1062.00 L1023.3,1062.00 L1023.8,1062.00 L1024.3,1062.00 L1024.8,1062.00 L1025.3,1062.00 L1025.8,1062.00 L1026.3,1062.00 L1026.8,1062.00 L1027.3,1061.83 L1027.8,1061.54 L1028.3,1061.26 L1028.8,1060.97 L1029.3,1060.69 L1029.8,1060.40 L1030.3,1060.11 L1030.8,1060.17 L1031.3,1060.46 L1031.8,1060.74 L1032.3,1061.03 L1032.8,1061.31 L1033.3,1061.60 L1033.8,1061.89 L1034.3,1062.00 L1034.8,1062.00 L1035.3,1062.00 L1035.8,1062.00 L1036.3,1062.00 L1036.8,1062.00 L1037.3,1062.00 L1037.8,1062.00 L1038.3,1062.00 L1038.8,1062.00 L1039.3,1062.00 L1039.8,1062.00 L1040.3,1062.00 L1040.8,1062.00 L1041.3,1062.00 L1041.8,1062.00 L1042.3,1062.00 L1042.8,1062.00 L1043.3,1062.00 L1043.8,1062.00 L1044.3,1062.00 L1044.8,1062.00 L1045.3,1062.00 L1045.8,1062.00 L1046.3,1062.00 L1046.8,1062.00 L1047.3,1062.00 L1047.8,1062.00 L1048.3,1062.00 L1048.8,1062.00 L1049.3,1062.00 L1049.8,1062.00 L1050.3,1062.00 L1050.8,1062.00 L1051.3,1062.00 L1051.8,1062.00 L1052.3,1062.00 L1052.8,1062.00 L1053.3,1061.86 L1053.8,1061.62 L1054.3,1061.39 L1054.8,1061.15 L1055.3,1060.91 L1055.8,1060.68 L1056.3,1060.44 L1056.8,1060.40 L1057.3,1060.65 L1057.8,1060.90 L1058.3,1061.15 L1058.8,1061.40 L1059.3,1061.65 L1059.8,1061.90 L1060.3,1062.43 L1060.8,1063.16 L1061.3,1063.88 L1061.8,1064.61 L1062.3,1065.33 L1062.8,1066.06 L1063.3,1066.78 L1063.8,1067.51 L1064.3,1067.52 L1064.8,1067.04 L1065.3,1066.57 L1065.8,1066.09 L1066.3,1065.62 L1066.8,1065.14 L1067.3,1064.66 L1067.8,1064.19 L1068.3,1063.94 L1068.8,1063.83 L1069.3,1063.72 L1069.8,1063.61 L1070.3,1063.51 L1070.8,1063.40 L1071.3,1063.29 L1071.8,1063.19 L1072.3,1063.08 L1072.8,1062.97 L1073.3,1062.86 L1073.8,1062.76 L1074.3,1062.65 L1074.8,1062.54 L1075.3,1062.46 L1075.8,1062.40 L1076.3,1062.33 L1076.8,1062.27 L1077.3,1062.20 L1077.8,1062.13 L1078.3,1062.07 L1078.8,1062.00 L1079.3,1061.94 L1079.8,1061.87 L1080.3,1061.81 L1080.8,1061.74 L1081.3,1061.68 L1081.8,1061.61 L1082.3,1061.55 L1082.8,1061.48 L1083.3,1061.42 L1083.8,1061.35 L1084.3,1061.29 L1084.8,1061.22 L1085.3,1061.16 L1085.8,1061.09 L1086.3,1061.03 L1086.8,1061.04 L1087.3,1061.09 L1087.8,1061.15 L1088.3,1061.21 L1088.8,1061.27 L1089.3,1061.33 L1089.8,1061.39 L1090.3,1061.45 L1090.8,1061.51 L1091.3,1061.56 L1091.8,1061.62 L1092.3,1061.68 L1092.8,1061.74 L1093.3,1061.80 L1093.8,1061.86 L1094.3,1061.92 L1094.8,1061.98 L1095.3,1062.00 L1095.8,1062.00 L1096.3,1062.00 L1096.8,1062.00 L1097.3,1062.00 L1097.8,1062.00 L1098.3,1062.00 L1098.8,1062.00 L1099.3,1062.00 L1099.8,1062.00 L1100.3,1062.00 L1100.8,1062.00 L1101.3,1062.00 L1101.8,1062.00 L1102.3,1062.00 L1102.8,1062.00 L1103.3,1062.00 L1103.8,1062.00 L1104.3,1062.00 L1104.8,1062.00 L1105.3,1062.00 L1105.8,1062.00 L1106.3,1062.00 L1106.8,1062.00 L1107.3,1062.00 L1107.8,1062.00 L1108.3,1062.00 L1108.8,1062.00 L1109.3,1062.00 L1109.8,1062.00 L1110.3,1062.00 L1110.8,1062.00 L1111.3,1062.00 L1111.8,1062.00 L1112.3,1062.00 L1112.8,1062.00 L1113.3,1062.00 L1113.8,1062.00 L1114.3,1062.00 L1114.8,1062.00 L1115.3,1062.00 L1115.8,1062.00 L1116.3,1062.00 L1116.8,1062.00 L1117.3,1062.00 L1117.8,1062.00 L1118.3,1062.00 L1118.8,1062.00 L1119.3,1062.00 L1119.8,1062.00 L1120.3,1062.00 L1120.8,1062.00 L1121.3,1062.00 L1121.8,1062.00 L1122.3,1062.00 L1122.8,1062.00 L1123.3,1062.00 L1123.8,1062.00 L1124.3,1062.00 L1124.8,1062.00 L1125.3,1062.00 L1125.8,1062.00 L1126.3,1062.00 L1126.8,1062.00 L1127.3,1062.00 L1127.8,1062.00 L1128.3,1062.00 L1128.8,1062.00 L1129.3,1062.00 L1129.8,1062.00 L1130.3,1062.00 L1130.8,1062.00 L1131.3,1062.00 L1131.8,1062.00 L1132.3,1062.00 L1132.8,1062.00 L1133.3,1062.00 L1133.8,1062.00 L1134.3,1062.00 L1134.8,1062.00 L1135.3,1062.00 L1135.8,1062.00 L1136.3,1062.00 L1136.8,1062.00 L1137.3,1062.00 L1137.8,1062.00 L1138.3,1062.00 L1138.8,1062.00 L1139.3,1062.00 L1139.8,1062.00 L1140.3,1062.00 L1140.8,1062.00 L1141.3,1062.00 L1141.8,1062.00 L1142.3,1062.00 L1142.8,1062.00 L1143.3,1062.00 L1143.8,1062.00 L1144.3,1062.00 L1144.8,1062.00 L1145.3,1062.00 L1145.8,1062.00 L1146.3,1062.00 L1146.8,1062.00 L1147.3,1062.00 L1147.8,1062.00 L1148.3,1062.00 L1148.8,1062.00 L1149.3,1062.00 L1149.8,1062.00 L1150.3,1062.00 L1150.8,1062.00 L1151.3,1062.00 L1151.8,1062.00 L1152.3,1062.00 L1152.8,1062.00 L1153.3,1062.00 L1153.8,1062.00 L1154.3,1062.00 L1154.8,1062.00 L1155.3,1062.00 L1155.8,1062.00 L1156.3,1062.00 L1156.8,1062.00 L1157.3,1062.00 L1157.8,1062.00 L1158.3,1062.00 L1158.8,1062.00 L1159.3,1062.00 L1159.8,1061.99 L1160.3,1061.99 L1160.8,1061.97 L1161.3,1061.95 L1161.8,1061.92 L1162.3,1061.86 L1162.8,1061.77 L1163.3,1061.63 L1163.8,1061.43 L1164.3,1061.14 L1164.8,1060.73 L1165.3,1060.18 L1165.8,1059.47 L1166.3,1058.57 L1166.8,1057.49 L1167.3,1056.22 L1167.8,1054.80 L1168.3,1053.28 L1168.8,1051.73 L1169.3,1050.23 L1169.8,1048.88 L1170.3,1047.78 L1170.8,1047.01 L1171.3,1046.63 L1171.8,1046.66 L1172.3,1047.02 L1172.8,1047.69 L1173.3,1048.61 L1173.8,1049.75 L1174.3,1051.03 L1174.8,1052.38 L1175.3,1053.75 L1175.8,1055.08 L1176.3,1056.32 L1176.8,1057.43 L1177.3,1058.41 L1177.8,1059.23 L1178.3,1059.92 L1178.8,1060.46 L1179.3,1060.89 L1179.8,1061.22 L1180.3,1061.46 L1180.8,1061.63 L1181.3,1061.76 L1181.8,1061.84 L1182.3,1061.90 L1182.8,1061.94 L1183.3,1061.96 L1183.8,1061.98 L1184.3,1061.99 L1184.8,1061.99 L1185.3,1062.00 L1185.8,1062.00 L1186.3,1062.00 L1186.8,1062.00 L1187.3,1062.00 L1187.8,1062.00 L1188.3,1062.00 L1188.8,1062.00 L1189.3,1062.00 L1189.8,1062.00 L1190.3,1062.00 L1190.8,1062.00 L1191.3,1062.00 L1191.8,1062.00 L1192.3,1062.00 L1192.8,1062.00 L1193.3,1062.00 L1193.8,1062.00 L1194.3,1062.00 L1194.8,1062.00 L1195.3,1062.00 L1195.8,1062.00 L1196.3,1062.00 L1196.8,1062.00 L1197.3,1062.00 L1197.8,1062.00 L1198.3,1062.00 L1198.8,1062.00 L1199.3,1062.00 L1199.8,1062.00 L1200.3,1061.94 L1200.8,1061.84 L1201.3,1061.74 L1201.8,1061.64 L1202.3,1061.54 L1202.8,1061.44 L1203.3,1061.34 L1203.8,1061.24 L1204.3,1061.14 L1204.8,1061.04 L1205.3,1060.94 L1205.8,1060.84 L1206.3,1060.74 L1206.8,1060.64 L1207.3,1060.60 L1207.8,1060.60 L1208.3,1060.60 L1208.8,1060.60 L1209.3,1060.60 L1209.8,1060.60 L1210.3,1060.60 L1210.8,1060.60 L1211.3,1060.60 L1211.8,1060.60 L1212.3,1060.60 L1212.8,1060.60 L1213.3,1060.60 L1213.8,1060.60 L1214.3,1060.60 L1214.8,1060.60 L1215.3,1060.60 L1215.8,1060.60 L1216.3,1060.60 L1216.8,1060.60 L1217.3,1060.60 L1217.8,1060.60 L1218.3,1060.60 L1218.8,1060.60 L1219.3,1060.60 L1219.8,1060.60 L1220.3,1060.60 L1220.8,1060.60 L1221.3,1060.60 L1221.8,1060.60 L1222.3,1060.60 L1222.8,1060.60 L1223.3,1060.60 L1223.8,1060.60 L1224.3,1060.60 L1224.8,1060.60 L1225.3,1060.60 L1225.8,1060.60 L1226.3,1060.60 L1226.8,1060.60 L1227.3,1060.60 L1227.8,1060.60 L1228.3,1060.60 L1228.8,1060.60 L1229.3,1060.60 L1229.8,1060.60 L1230.3,1060.60 L1230.8,1060.60 L1231.3,1060.60 L1231.8,1060.60 L1232.3,1060.60 L1232.8,1060.60 L1233.3,1060.60 L1233.8,1060.60 L1234.3,1060.60 L1234.8,1060.60 L1235.3,1060.60 L1235.8,1060.60 L1236.3,1060.60 L1236.8,1060.60 L1237.3,1060.60 L1237.8,1060.60 L1238.3,1060.60 L1238.8,1060.60 L1239.3,1060.60 L1239.8,1060.60 L1240.3,1060.60 L1240.8,1060.60 L1241.3,1060.60 L1241.8,1060.60 L1242.3,1060.60 L1242.8,1060.60 L1243.3,1060.60 L1243.8,1060.60 L1244.3,1060.60 L1244.8,1060.60 L1245.3,1060.60 L1245.8,1060.60 L1246.3,1060.60 L1246.8,1060.60 L1247.3,1060.60 L1247.8,1060.60 L1248.3,1060.60 L1248.8,1060.60 L1249.3,1060.60 L1249.8,1060.60 L1250.3,1060.64 L1250.8,1060.71 L1251.3,1060.78 L1251.8,1060.85 L1252.3,1060.92 L1252.8,1060.99 L1253.3,1061.06 L1253.8,1061.13 L1254.3,1061.20 L1254.8,1061.27 L1255.3,1061.34 L1255.8,1061.41 L1256.3,1061.48 L1256.8,1061.55 L1257.3,1061.62 L1257.8,1061.69 L1258.3,1061.76 L1258.8,1061.83 L1259.3,1061.90 L1259.8,1061.97 L1260.3,1062.00 L1260.8,1062.00 L1261.3,1062.00 L1261.8,1062.00 L1262.3,1062.00 L1262.8,1062.00 L1263.3,1062.00 L1263.8,1062.00 L1264.3,1062.00 L1264.8,1062.00 L1265.3,1062.00 L1265.8,1062.00 L1266.3,1062.00 L1266.8,1062.00 L1267.3,1062.00 L1267.8,1062.00 L1268.3,1062.00 L1268.8,1062.00 L1269.3,1062.00 L1269.8,1062.00 L1270.3,1062.00 L1270.8,1062.00 L1271.3,1062.00 L1271.8,1062.00 L1272.3,1062.00 L1272.8,1062.00 L1273.3,1062.00 L1273.8,1062.00 L1274.3,1062.00 L1274.8,1062.00 L1275.3,1062.00 L1275.8,1062.00 L1276.3,1062.00 L1276.8,1062.00 L1277.3,1062.00 L1277.8,1062.00 L1278.3,1062.00 L1278.8,1062.00 L1279.3,1062.00 L1279.8,1062.00 L1280.3,1062.00 L1280.8,1062.00 L1281.3,1062.00 L1281.8,1062.00 L1282.3,1062.00 L1282.8,1062.00 L1283.3,1062.00 L1283.8,1062.00 L1284.3,1062.00 L1284.8,1062.00 L1285.3,1062.00 L1285.8,1062.00 L1286.3,1062.00 L1286.8,1062.00 L1287.3,1062.00 L1287.8,1062.00 L1288.3,1062.00 L1288.8,1062.00 L1289.3,1062.00 L1289.8,1062.00 L1290.3,1062.00 L1290.8,1062.00 L1291.3,1062.00 L1291.8,1061.99 L1292.3,1061.99 L1292.8,1061.99 L1293.3,1061.99 L1293.8,1061.98 L1294.3,1061.98 L1294.8,1061.98 L1295.3,1061.97 L1295.8,1061.96 L1296.3,1061.95 L1296.8,1061.94 L1297.3,1061.93 L1297.8,1061.91 L1298.3,1061.89 L1298.8,1061.87 L1299.3,1061.84 L1299.8,1061.81 L1300.3,1061.76 L1300.8,1061.71 L1301.3,1061.66 L1301.8,1061.59 L1302.3,1061.50 L1302.8,1061.40 L1303.3,1061.29 L1303.8,1061.15 L1304.3,1060.99 L1304.8,1060.81 L1305.3,1060.59 L1305.8,1060.33 L1306.3,1060.04 L1306.8,1059.70 L1307.3,1059.31 L1307.8,1058.86 L1308.3,1058.34 L1308.8,1057.75 L1309.3,1057.08 L1309.8,1056.31 L1310.3,1055.44 L1310.8,1054.46 L1311.3,1053.35 L1311.8,1052.11 L1312.3,1050.72 L1312.8,1049.16 L1313.3,1047.42 L1313.8,1045.49 L1314.3,1043.36 L1314.8,1041.00 L1315.3,1038.40 L1315.8,1035.55 L1316.3,1032.43 L1316.8,1029.03 L1317.3,1025.33 L1317.8,1021.32 L1318.3,1016.99 L1318.8,1012.32 L1319.3,1007.30 L1319.8,1001.93 L1320.3,996.21 L1320.8,990.12 L1321.3,983.67 L1321.8,976.85 L1322.3,969.68 L1322.8,962.16 L1323.3,954.30 L1323.8,946.12 L1324.3,937.64 L1324.8,928.88 L1325.3,919.86 L1325.8,910.61 L1326.3,901.18 L1326.8,891.59 L1327.3,881.89 L1327.8,872.13 L1328.3,862.34 L1328.8,852.59 L1329.3,842.92 L1329.8,833.38 L1330.3,824.04 L1330.8,814.95 L1331.3,806.16 L1331.8,797.74 L1332.3,789.74 L1332.8,782.20 L1333.3,775.19 L1333.8,768.76 L1334.3,762.94 L1334.8,757.79 L1335.3,753.33 L1335.8,749.61 L1336.3,746.65 L1336.8,744.47 L1337.3,743.09 L1337.8,742.52 L1338.3,742.76 L1338.8,743.82 L1339.3,745.68 L1339.8,748.33 L1340.3,751.75 L1340.8,755.92 L1341.3,760.80 L1341.8,766.35 L1342.3,772.55 L1342.8,779.33 L1343.3,786.66 L1343.8,794.49 L1344.3,802.75 L1344.8,811.40 L1345.3,820.37 L1345.8,829.62 L1346.3,839.08 L1346.8,848.71 L1347.3,858.43 L1347.8,868.21 L1348.3,877.99 L1348.8,887.72 L1349.3,897.36 L1349.8,906.86 L1350.3,916.18 L1350.8,925.30 L1351.3,934.17 L1351.8,942.77 L1352.3,951.07 L1352.8,959.06 L1353.3,966.71 L1353.8,974.03 L1354.3,980.98 L1354.8,987.58 L1355.3,993.82 L1355.8,999.69 L1356.3,1005.20 L1356.8,1010.35 L1357.3,1015.16 L1357.8,1019.63 L1358.3,1023.77 L1358.8,1027.59 L1359.3,1031.11 L1359.8,1034.34 L1360.3,1037.29 L1360.8,1039.99 L1361.3,1042.44 L1361.8,1044.67 L1362.3,1046.67 L1362.8,1048.49 L1363.3,1050.11 L1363.8,1051.57 L1364.3,1052.87 L1364.8,1054.03 L1365.3,1055.06 L1365.8,1055.98 L1366.3,1056.78 L1366.8,1057.49 L1367.3,1058.11 L1367.8,1058.66 L1368.3,1059.14 L1368.8,1059.55 L1369.3,1059.91 L1369.8,1060.22 L1370.3,1060.49 L1370.8,1060.72 L1371.3,1060.92 L1371.8,1061.09 L1372.3,1061.24 L1372.8,1061.36 L1373.3,1061.47 L1373.8,1061.55 L1374.3,1061.63 L1374.8,1061.69 L1375.3,1061.75 L1375.8,1061.79 L1376.3,1061.83 L1376.8,1061.86 L1377.3,1061.88 L1377.8,1061.91 L1378.3,1061.92 L1378.8,1061.94 L1379.3,1061.95 L1379.8,1061.96 L1380.3,1061.97 L1380.8,1061.97 L1381.3,1061.98 L1381.8,1061.98 L1382.3,1061.99 L1382.8,1061.99 L1383.3,1061.99 L1383.8,1061.99 L1384.3,1061.99 L1384.8,1062.00 L1385.3,1062.00 L1385.8,1062.00 L1386.3,1062.00 L1386.8,1062.00 L1387.3,1062.00 L1387.8,1062.00 L1388.3,1062.00 L1388.8,1062.00 L1389.3,1062.00 L1389.8,1062.00 L1390.3,1062.00 L1390.8,1062.00 L1391.3,1062.00 L1391.8,1062.00 L1392.3,1062.00 L1392.8,1062.00 L1393.3,1062.00 L1393.8,1062.00 L1394.3,1062.00 L1394.8,1062.00 L1395.3,1062.00 L1395.8,1062.00 L1396.3,1062.00 L1396.8,1062.00 L1397.3,1062.00 L1397.8,1062.00 L1398.3,1062.00 L1398.8,1062.00 L1399.3,1062.00 L1399.8,1062.00 L1400.3,1062.00 L1400.8,1062.00 L1401.3,1062.00 L1401.8,1062.00 L1402.3,1062.00 L1402.8,1062.00 L1403.3,1062.00 L1403.8,1062.00 L1404.3,1062.00 L1404.8,1062.00 L1405.3,1062.00 L1405.8,1062.00 L1406.3,1062.00 L1406.8,1062.00 L1407.3,1062.00 L1407.8,1062.00 L1408.3,1062.00 L1408.8,1062.00 L1409.3,1062.00 L1409.8,1062.00 L1410.3,1062.00 L1410.8,1062.00 L1411.3,1062.00 L1411.8,1062.00 L1412.3,1062.00 L1412.8,1062.00 L1413.3,1062.00 L1413.8,1062.00 L1414.3,1062.00 L1414.8,1062.00 L1415.3,1062.00 L1415.8,1062.00 L1416.3,1062.00 L1416.8,1062.00 L1417.3,1062.00 L1417.8,1062.00 L1418.3,1062.00 L1418.8,1062.00 L1419.3,1062.00 L1419.8,1062.00 L1420.3,1062.00 L1420.8,1062.00 L1421.3,1062.00 L1421.8,1062.00 L1422.3,1062.00 L1422.8,1061.99 L1423.3,1061.99 L1423.8,1061.99 L1424.3,1061.99 L1424.8,1061.99 L1425.3,1061.99 L1425.8,1061.99 L1426.3,1061.98 L1426.8,1061.98 L1427.3,1061.98 L1427.8,1061.98 L1428.3,1061.97 L1428.8,1061.97 L1429.3,1061.96 L1429.8,1061.96 L1430.3,1061.95 L1430.8,1061.94 L1431.3,1061.93 L1431.8,1061.92 L1432.3,1061.91 L1432.8,1061.90 L1433.3,1061.88 L1433.8,1061.87 L1434.3,1061.85 L1434.8,1061.83 L1435.3,1061.80 L1435.8,1061.77 L1436.3,1061.74 L1436.8,1061.71 L1437.3,1061.67 L1437.8,1061.62 L1438.3,1061.57 L1438.8,1061.52 L1439.3,1061.45 L1439.8,1061.38 L1440.3,1061.30 L1440.8,1061.22 L1441.3,1061.12 L1441.8,1061.01 L1442.3,1060.89 L1442.8,1060.76 L1443.3,1060.61 L1443.8,1060.45 L1444.3,1060.27 L1444.8,1060.07 L1445.3,1059.85 L1445.8,1059.61 L1446.3,1059.34 L1446.8,1059.05 L1447.3,1058.73 L1447.8,1058.38 L1448.3,1058.00 L1448.8,1057.59 L1449.3,1057.13 L1449.8,1056.64 L1450.3,1056.11 L1450.8,1055.53 L1451.3,1054.90 L1451.8,1054.21 L1452.3,1053.48 L1452.8,1052.68 L1453.3,1051.83 L1453.8,1050.91 L1454.3,1049.92 L1454.8,1048.86 L1455.3,1047.72 L1455.8,1046.50 L1456.3,1045.20 L1456.8,1043.81 L1457.3,1042.34 L1457.8,1040.76 L1458.3,1039.09 L1458.8,1037.32 L1459.3,1035.45 L1459.8,1033.47 L1460.3,1031.37 L1460.8,1029.17 L1461.3,1026.84 L1461.8,1024.40 L1462.3,1021.84 L1462.8,1019.16 L1463.3,1016.35 L1463.8,1013.42 L1464.3,1010.37 L1464.8,1007.19 L1465.3,1003.88 L1465.8,1000.45 L1466.3,996.90 L1466.8,993.22 L1467.3,989.43 L1467.8,985.52 L1468.3,981.50 L1468.8,977.38 L1469.3,973.15 L1469.8,968.82 L1470.3,964.40 L1470.8,959.90 L1471.3,955.32 L1471.8,950.67 L1472.3,945.95 L1472.8,941.19 L1473.3,936.39 L1473.8,931.55 L1474.3,926.69 L1474.8,921.83 L1475.3,916.96 L1475.8,912.12 L1476.3,907.29 L1476.8,902.51 L1477.3,897.78 L1477.8,893.12 L1478.3,888.54 L1478.8,884.05 L1479.3,879.67 L1479.8,875.40 L1480.3,871.27 L1480.8,867.29 L1481.3,863.47 L1481.8,859.82 L1482.3,856.36 L1482.8,853.09 L1483.3,850.03 L1483.8,847.18 L1484.3,844.57 L1484.8,842.19 L1485.3,840.06 L1485.8,838.17 L1486.3,836.55 L1486.8,835.20 L1487.3,834.12 L1487.8,833.31 L1488.3,832.77 L1488.8,832.52 L1489.3,832.55 L1489.8,832.86 L1490.3,833.45 L1490.8,834.31 L1491.3,835.45 L1491.8,836.86 L1492.3,838.53 L1492.8,840.46 L1493.3,842.64 L1493.8,845.07 L1494.3,847.73 L1494.8,850.62 L1495.3,853.73 L1495.8,857.03 L1496.3,860.54 L1496.8,864.22 L1497.3,868.08 L1497.8,872.09 L1498.3,876.25 L1498.8,880.53 L1499.3,884.94 L1499.8,889.45 L1500.3,894.05 L1500.8,898.72 L1501.3,903.46 L1501.8,908.25 L1502.3,913.08 L1502.8,917.94 L1503.3,922.80 L1503.8,927.67 L1504.3,932.52 L1504.8,937.35 L1505.3,942.15 L1505.8,946.90 L1506.3,951.60 L1506.8,956.24 L1507.3,960.80 L1507.8,965.29 L1508.3,969.69 L1508.8,974.00 L1509.3,978.21 L1509.8,982.32 L1510.3,986.31 L1510.8,990.20 L1511.3,993.97 L1511.8,997.62 L1512.3,1001.15 L1512.8,1004.55 L1513.3,1007.83 L1513.8,1010.99 L1514.3,1014.02 L1514.8,1016.92 L1515.3,1019.71 L1515.8,1022.36 L1516.3,1024.90 L1516.8,1027.32 L1517.3,1029.62 L1517.8,1031.80 L1518.3,1033.87 L1518.8,1035.83 L1519.3,1037.69 L1519.8,1039.44 L1520.3,1041.09 L1520.8,1042.64 L1521.3,1044.10 L1521.8,1045.47 L1522.3,1046.75 L1522.8,1047.95 L1523.3,1049.07 L1523.8,1050.12 L1524.3,1051.10 L1524.8,1052.00 L1525.3,1052.85 L1525.8,1053.63 L1526.3,1054.36 L1526.8,1055.03 L1527.3,1055.65 L1527.8,1056.22 L1528.3,1056.74 L1528.8,1057.23 L1529.3,1057.67 L1529.8,1058.08 L1530.3,1058.46 L1530.8,1058.80 L1531.3,1059.11 L1531.8,1059.40 L1532.3,1059.66 L1532.8,1059.89 L1533.3,1060.11 L1533.8,1060.30 L1534.3,1060.48 L1534.8,1060.64 L1535.3,1060.79 L1535.8,1060.92 L1536.3,1061.03 L1536.8,1061.14 L1537.3,1061.24 L1537.8,1061.32 L1538.3,1061.40 L1538.8,1061.47 L1539.3,1061.53 L1539.8,1061.58 L1540.3,1061.63 L1540.8,1061.68 L1541.3,1061.71 L1541.8,1061.75 L1542.3,1061.78 L1542.8,1061.81 L1543.3,1061.83 L1543.8,1061.85 L1544.3,1061.87 L1544.8,1061.89 L1545.3,1061.90 L1545.8,1061.91 L1546.3,1061.93 L1546.8,1061.93 L1547.3,1061.94 L1547.8,1061.95 L1548.3,1061.96 L1548.8,1061.96 L1549.3,1061.97 L1549.8,1061.97 L1550.3,1061.98 L1550.8,1061.98 L1551.3,1061.98 L1551.8,1061.99 L1552.3,1061.99 L1552.8,1061.99 L1553.3,1061.99 L1553.8,1061.99 L1554.3,1061.99 L1554.8,1061.99 L1555.3,1062.00 L1555.8,1062.00 L1556.3,1062.00 L1556.8,1062.00 L1557.3,1062.00 L1557.8,1062.00 L1558.3,1062.00 L1558.8,1062.00 L1559.3,1062.00 L1559.8,1062.00 L1560.3,1062.00 L1560.8,1062.00 L1561.3,1062.00 L1561.8,1062.00 L1562.3,1062.00 L1562.8,1062.00 L1563.3,1062.00 L1563.8,1062.00 L1564.3,1062.00 L1564.8,1062.00 L1565.3,1062.00 L1565.8,1062.00 L1566.3,1062.00 L1566.8,1062.00 L1567.3,1062.00 L1567.8,1062.00 L1568.3,1062.00 L1568.8,1062.00 L1569.3,1062.00 L1569.8,1062.00 L1570.3,1062.00 L1570.8,1062.00 L1571.3,1062.00 L1571.8,1062.00 L1572.3,1062.00 L1572.8,1062.00 L1573.3,1062.00 L1573.8,1062.00 L1574.3,1062.00 L1574.8,1062.00 L1575.3,1062.00 L1575.8,1062.00 L1576.3,1062.00 L1576.8,1062.00 L1577.3,1062.00 L1577.8,1062.00 L1578.3,1062.00 L1578.8,1062.00 L1579.3,1062.00 L1579.8,1062.00" fill="none" stroke="#4a4ea6" stroke-width="1.40" stroke-linejoin="round"/>
<rect x="1379.8" y="1062.5" width="1.4" height="3.5" fill="#222"/>
<rect x="1435.0" y="1058.0" width="1.4" height="4.0" fill="#222"/>
<rect x="1543.3" y="1062.5" width="1.4" height="3.5" fill="#222"/>
<text x="0" y="0" font-family="Liberation Sans, sans-serif" font-size="11.0" fill="#2a2a2a" transform="translate(1342.3,737.8) rotate(-90)" textLength="31.5" lengthAdjust="spacingAndGlyphs">5.120</text>
<text x="0" y="0" font-family="Liberation Sans, sans-serif" font-size="11.0" fill="#2a2a2a" transform="translate(1493.4,827.5) rotate(-90)" textLength="31.5" lengthAdjust="spacingAndGlyphs">7.163</text>
</svg>
</body></html>
